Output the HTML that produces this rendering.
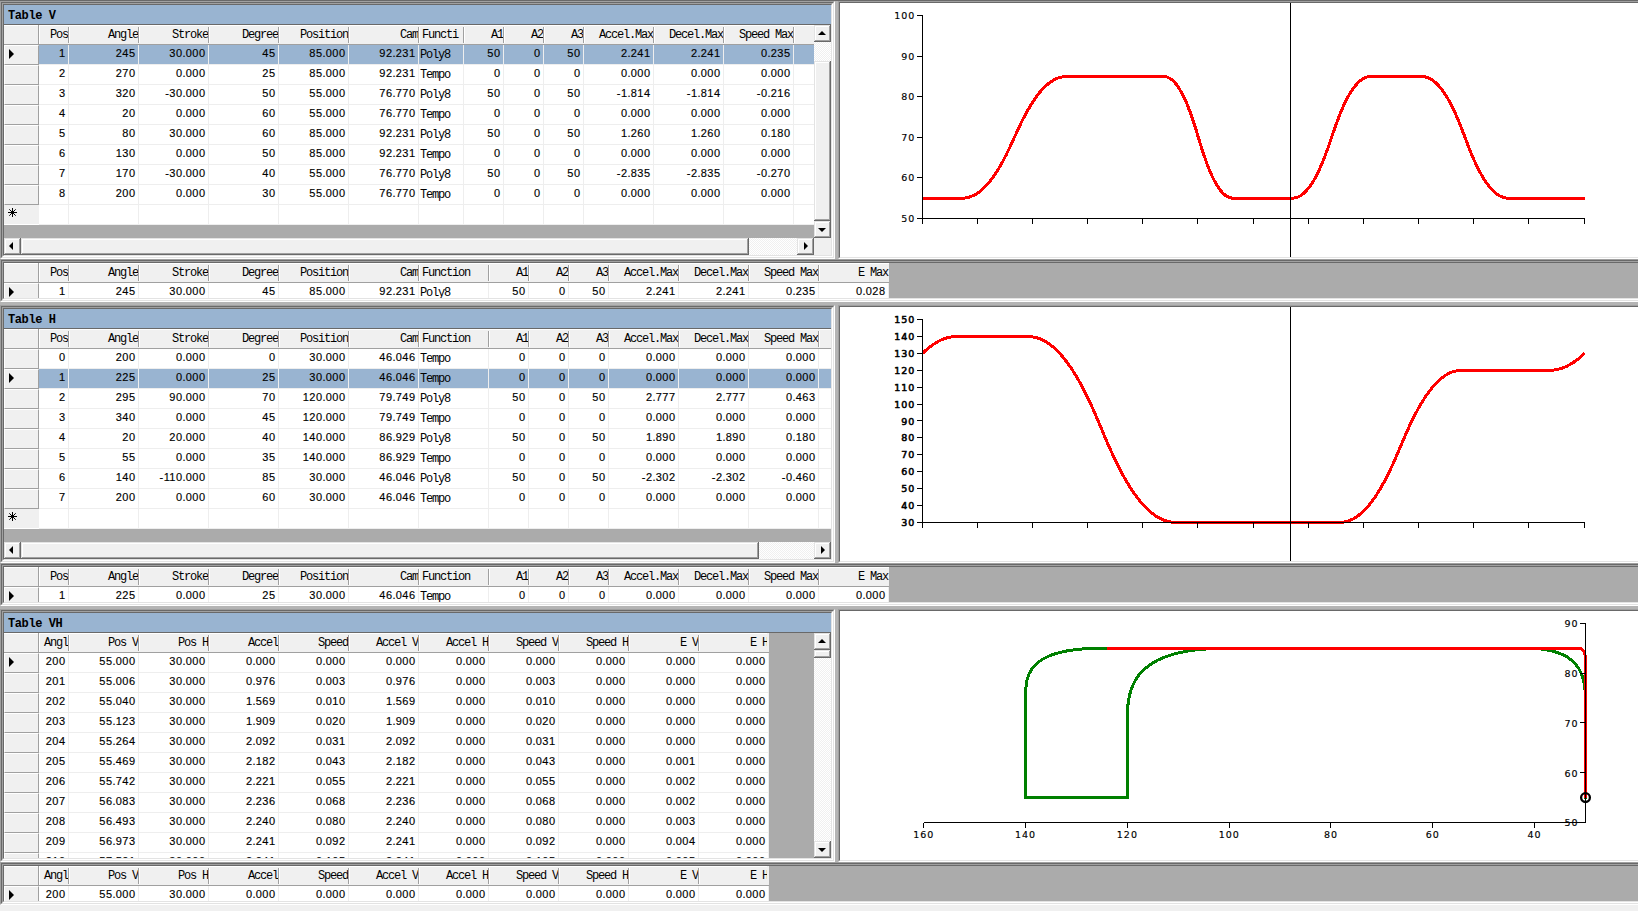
<!DOCTYPE html>
<html><head><meta charset="utf-8"><title>Cam tables</title>
<style>
html,body{margin:0;padding:0}
body{width:1638px;height:911px;overflow:hidden;background:#f0f0f0;position:relative;
 font:12px "Liberation Mono",monospace;letter-spacing:-1.2px;color:#000}
div,svg,b,i,u,s,em{position:absolute;box-sizing:border-box;text-decoration:none;font-style:normal}
.sk{border:1px solid;border-color:#a0a0a0 #fff #fff #a0a0a0}
.sk>.in{left:0;top:0;right:0;bottom:0;border:1px solid;border-color:#696969 #e3e3e3 #e3e3e3 #696969;overflow:hidden}
.cap{left:0;top:0;right:0;height:19px;background:#99b4d1;font-weight:bold;letter-spacing:-.4px;line-height:23px;padding-left:4px;overflow:hidden;white-space:pre}
.hd{background:#f0f0f0;border-top:1px solid #696969;border-bottom:1px solid #a0a0a0;height:21px;left:0}
.hd i{position:absolute;top:2px;width:2px;height:16px;border-left:1px solid #a0a0a0;border-right:1px solid #fff}
.hd b,.r b{position:absolute;top:0;height:19px;line-height:21px;font-weight:normal;white-space:pre;overflow:hidden}
.hd b{text-align:right;padding-right:1px}
.hd b.l{text-align:left;padding-left:3px}
.hd u{position:absolute;left:34px;top:0;width:2px;height:19px;border-left:1px solid #a0a0a0;border-right:1px solid #fff}
.hd em{position:absolute;left:0;top:0;height:1px;background:#fff;right:0}
.r{left:0;height:20px}
.r b{text-align:right;padding-right:5px;background:#fff}
.r b.l{text-align:left;padding:0 0 0 1px}
.r b.n{font:11px "Liberation Sans",sans-serif;letter-spacing:.4px;line-height:17px;padding-right:3.6px;-webkit-text-stroke:.15px #000}
.r.s b{background:#99b4d1}
.r s{position:absolute;left:0;top:0;width:35px;height:20px;background:#f0f0f0;border-right:1px solid #a0a0a0;border-bottom:1px solid #a0a0a0;border-top:1px solid #fff;border-left:1px solid #fff}
.r s.n{border:0;height:19px;width:35px}
.vl{width:1px;background:#eee}
.hl{height:1px;background:#eee}
.ws{background:#ababab}
.bt{background:#f0f0f0;box-shadow:inset -1px -1px 0 #696969,inset 1px 1px 0 #e3e3e3,inset -2px -2px 0 #a0a0a0,inset 2px 2px 0 #fff}
.tr{background:repeating-conic-gradient(#fff 0% 25%,#f0f0f0 0% 50%) 0 0/2px 2px}
.ar{width:0;height:0;border:solid transparent}
svg text{font-family:"DejaVu Sans",sans-serif;font-size:9.5px;letter-spacing:1px;fill:#000;stroke:#000;stroke-width:.15px}
</style></head><body>

<div style="left:0;top:0;width:1638px;height:1px;background:#696969"></div>
<div style="left:835px;top:1px;width:3px;height:904px;background:#b4b4b4"></div>
<div class="sk" style="left:0;top:1px;width:835px;height:258px"><div class="in"><div class="sk" style="left:0;top:0;width:831px;height:254px"><div class="in" style="background:#fff"><div class="cap">Table V</div><div style="left:0;top:19px;width:827px;height:1px;background:#696969"></div><div class="hd" style="top:19px;width:810px"><em></em><u></u><b style="left:35px;width:30px">Pos</b><i style="left:64px"></i><b style="left:65px;width:70px">Angle</b><i style="left:134px"></i><b style="left:135px;width:70px">Stroke</b><i style="left:204px"></i><b style="left:205px;width:70px">Degree</b><i style="left:274px"></i><b style="left:275px;width:70px">Position</b><i style="left:344px"></i><b style="left:345px;width:70px">Cam</b><i style="left:414px"></i><b class="l" style="left:415px;width:45px">Functi</b><i style="left:459px"></i><b style="left:460px;width:40px">A1</b><i style="left:499px"></i><b style="left:500px;width:40px">A2</b><i style="left:539px"></i><b style="left:540px;width:40px">A3</b><i style="left:579px"></i><b style="left:580px;width:70px">Accel.Max</b><i style="left:649px"></i><b style="left:650px;width:70px">Decel.Max</b><i style="left:719px"></i><b style="left:720px;width:70px">Speed Max</b><i style="left:789px"></i><b style="left:790px;width:70px"></b></div><div class="r s" style="top:40px;width:810px;height:20px;overflow:hidden"><s></s><div class="ar" style="left:5px;top:4px;border-width:5px 0 5px 5px;border-left-color:#000"></div><b class="n" style="left:35px;width:30px">1</b><b class="n" style="left:65px;width:70px">245</b><b class="n" style="left:135px;width:70px">30.000</b><b class="n" style="left:205px;width:70px">45</b><b class="n" style="left:275px;width:70px">85.000</b><b class="n" style="left:345px;width:70px">92.231</b><b class="l" style="left:415px;width:45px">Poly8</b><b class="n" style="left:460px;width:40px">50</b><b class="n" style="left:500px;width:40px">0</b><b class="n" style="left:540px;width:40px">50</b><b class="n" style="left:580px;width:70px">2.241</b><b class="n" style="left:650px;width:70px">2.241</b><b class="n" style="left:720px;width:70px">0.235</b><b class="n" style="left:790px;width:70px"></b></div><div class="r" style="top:60px;width:810px;height:20px;overflow:hidden"><s></s><b class="n" style="left:35px;width:30px">2</b><b class="n" style="left:65px;width:70px">270</b><b class="n" style="left:135px;width:70px">0.000</b><b class="n" style="left:205px;width:70px">25</b><b class="n" style="left:275px;width:70px">85.000</b><b class="n" style="left:345px;width:70px">92.231</b><b class="l" style="left:415px;width:45px">Tempo</b><b class="n" style="left:460px;width:40px">0</b><b class="n" style="left:500px;width:40px">0</b><b class="n" style="left:540px;width:40px">0</b><b class="n" style="left:580px;width:70px">0.000</b><b class="n" style="left:650px;width:70px">0.000</b><b class="n" style="left:720px;width:70px">0.000</b><b class="n" style="left:790px;width:70px"></b></div><div class="r" style="top:80px;width:810px;height:20px;overflow:hidden"><s></s><b class="n" style="left:35px;width:30px">3</b><b class="n" style="left:65px;width:70px">320</b><b class="n" style="left:135px;width:70px">-30.000</b><b class="n" style="left:205px;width:70px">50</b><b class="n" style="left:275px;width:70px">55.000</b><b class="n" style="left:345px;width:70px">76.770</b><b class="l" style="left:415px;width:45px">Poly8</b><b class="n" style="left:460px;width:40px">50</b><b class="n" style="left:500px;width:40px">0</b><b class="n" style="left:540px;width:40px">50</b><b class="n" style="left:580px;width:70px">-1.814</b><b class="n" style="left:650px;width:70px">-1.814</b><b class="n" style="left:720px;width:70px">-0.216</b><b class="n" style="left:790px;width:70px"></b></div><div class="r" style="top:100px;width:810px;height:20px;overflow:hidden"><s></s><b class="n" style="left:35px;width:30px">4</b><b class="n" style="left:65px;width:70px">20</b><b class="n" style="left:135px;width:70px">0.000</b><b class="n" style="left:205px;width:70px">60</b><b class="n" style="left:275px;width:70px">55.000</b><b class="n" style="left:345px;width:70px">76.770</b><b class="l" style="left:415px;width:45px">Tempo</b><b class="n" style="left:460px;width:40px">0</b><b class="n" style="left:500px;width:40px">0</b><b class="n" style="left:540px;width:40px">0</b><b class="n" style="left:580px;width:70px">0.000</b><b class="n" style="left:650px;width:70px">0.000</b><b class="n" style="left:720px;width:70px">0.000</b><b class="n" style="left:790px;width:70px"></b></div><div class="r" style="top:120px;width:810px;height:20px;overflow:hidden"><s></s><b class="n" style="left:35px;width:30px">5</b><b class="n" style="left:65px;width:70px">80</b><b class="n" style="left:135px;width:70px">30.000</b><b class="n" style="left:205px;width:70px">60</b><b class="n" style="left:275px;width:70px">85.000</b><b class="n" style="left:345px;width:70px">92.231</b><b class="l" style="left:415px;width:45px">Poly8</b><b class="n" style="left:460px;width:40px">50</b><b class="n" style="left:500px;width:40px">0</b><b class="n" style="left:540px;width:40px">50</b><b class="n" style="left:580px;width:70px">1.260</b><b class="n" style="left:650px;width:70px">1.260</b><b class="n" style="left:720px;width:70px">0.180</b><b class="n" style="left:790px;width:70px"></b></div><div class="r" style="top:140px;width:810px;height:20px;overflow:hidden"><s></s><b class="n" style="left:35px;width:30px">6</b><b class="n" style="left:65px;width:70px">130</b><b class="n" style="left:135px;width:70px">0.000</b><b class="n" style="left:205px;width:70px">50</b><b class="n" style="left:275px;width:70px">85.000</b><b class="n" style="left:345px;width:70px">92.231</b><b class="l" style="left:415px;width:45px">Tempo</b><b class="n" style="left:460px;width:40px">0</b><b class="n" style="left:500px;width:40px">0</b><b class="n" style="left:540px;width:40px">0</b><b class="n" style="left:580px;width:70px">0.000</b><b class="n" style="left:650px;width:70px">0.000</b><b class="n" style="left:720px;width:70px">0.000</b><b class="n" style="left:790px;width:70px"></b></div><div class="r" style="top:160px;width:810px;height:20px;overflow:hidden"><s></s><b class="n" style="left:35px;width:30px">7</b><b class="n" style="left:65px;width:70px">170</b><b class="n" style="left:135px;width:70px">-30.000</b><b class="n" style="left:205px;width:70px">40</b><b class="n" style="left:275px;width:70px">55.000</b><b class="n" style="left:345px;width:70px">76.770</b><b class="l" style="left:415px;width:45px">Poly8</b><b class="n" style="left:460px;width:40px">50</b><b class="n" style="left:500px;width:40px">0</b><b class="n" style="left:540px;width:40px">50</b><b class="n" style="left:580px;width:70px">-2.835</b><b class="n" style="left:650px;width:70px">-2.835</b><b class="n" style="left:720px;width:70px">-0.270</b><b class="n" style="left:790px;width:70px"></b></div><div class="r" style="top:180px;width:810px;height:20px;overflow:hidden"><s></s><b class="n" style="left:35px;width:30px">8</b><b class="n" style="left:65px;width:70px">200</b><b class="n" style="left:135px;width:70px">0.000</b><b class="n" style="left:205px;width:70px">30</b><b class="n" style="left:275px;width:70px">55.000</b><b class="n" style="left:345px;width:70px">76.770</b><b class="l" style="left:415px;width:45px">Tempo</b><b class="n" style="left:460px;width:40px">0</b><b class="n" style="left:500px;width:40px">0</b><b class="n" style="left:540px;width:40px">0</b><b class="n" style="left:580px;width:70px">0.000</b><b class="n" style="left:650px;width:70px">0.000</b><b class="n" style="left:720px;width:70px">0.000</b><b class="n" style="left:790px;width:70px"></b></div><div class="r" style="top:200px;width:810px;height:20px;overflow:hidden"><s class="n"></s><svg width="10" height="10" viewBox="0 0 10 10" style="left:4px;top:3px"><path d="M4.5 0V9M0 4.5H9M1.3 1.3L7.7 7.7M7.7 1.3L1.3 7.7" stroke="#000" stroke-width="1" fill="none"/></svg><b class="n" style="left:35px;width:30px"></b><b class="n" style="left:65px;width:70px"></b><b class="n" style="left:135px;width:70px"></b><b class="n" style="left:205px;width:70px"></b><b class="n" style="left:275px;width:70px"></b><b class="n" style="left:345px;width:70px"></b><b class="l" style="left:415px;width:45px"></b><b class="n" style="left:460px;width:40px"></b><b class="n" style="left:500px;width:40px"></b><b class="n" style="left:540px;width:40px"></b><b class="n" style="left:580px;width:70px"></b><b class="n" style="left:650px;width:70px"></b><b class="n" style="left:720px;width:70px"></b><b class="n" style="left:790px;width:70px"></b></div><div class="vl" style="left:64px;top:40px;height:180px"></div><div class="vl" style="left:134px;top:40px;height:180px"></div><div class="vl" style="left:204px;top:40px;height:180px"></div><div class="vl" style="left:274px;top:40px;height:180px"></div><div class="vl" style="left:344px;top:40px;height:180px"></div><div class="vl" style="left:414px;top:40px;height:180px"></div><div class="vl" style="left:459px;top:40px;height:180px"></div><div class="vl" style="left:499px;top:40px;height:180px"></div><div class="vl" style="left:539px;top:40px;height:180px"></div><div class="vl" style="left:579px;top:40px;height:180px"></div><div class="vl" style="left:649px;top:40px;height:180px"></div><div class="vl" style="left:719px;top:40px;height:180px"></div><div class="vl" style="left:789px;top:40px;height:180px"></div><div class="hl" style="left:35px;top:59px;width:775px"></div><div class="hl" style="left:35px;top:79px;width:775px"></div><div class="hl" style="left:35px;top:99px;width:775px"></div><div class="hl" style="left:35px;top:119px;width:775px"></div><div class="hl" style="left:35px;top:139px;width:775px"></div><div class="hl" style="left:35px;top:159px;width:775px"></div><div class="hl" style="left:35px;top:179px;width:775px"></div><div class="hl" style="left:35px;top:199px;width:775px"></div><div class="hl" style="left:35px;top:219px;width:775px"></div><div class="ws" style="left:0;top:220px;width:810px;height:13px"></div><div class="tr" style="left:0px;top:233px;width:810px;height:17px"></div><div class="bt" style="left:0px;top:233px;width:17px;height:17px"></div><div class="ar" style="left:5px;top:237px;border-width:4px 4px 4px 0;border-right-color:#000"></div><div class="bt" style="left:793px;top:233px;width:17px;height:17px"></div><div class="ar" style="left:800px;top:237px;border-width:4px 0 4px 4px;border-left-color:#000"></div><div class="bt" style="left:17px;top:233px;width:728px;height:17px"></div><div style="left:810px;top:233px;width:17px;height:17px;background:#f0f0f0"></div><div class="tr" style="left:810px;top:20px;width:17px;height:213px"></div><div class="bt" style="left:810px;top:20px;width:17px;height:17px"></div><div class="ar" style="left:814px;top:26px;border-width:0 4px 4px 4px;border-bottom-color:#000"></div><div class="bt" style="left:810px;top:216px;width:17px;height:17px"></div><div class="ar" style="left:814px;top:223px;border-width:4px 4px 0 4px;border-top-color:#000"></div><div class="bt" style="left:810px;top:56px;width:17px;height:160px"></div></div></div></div></div>
<div class="sk" style="left:838px;top:1px;width:802px;height:258px;border-right:0"><div class="in" style="background:#fff;border-right:0"><svg width="800" height="254" viewBox="840 3 800 254" style="left:0;top:0" shape-rendering="crispEdges"><path d="M922.5 198.2 L923.4 198.2 L924.3 198.2 L925.3 198.2 L926.2 198.2 L927.1 198.2 L928 198.2 L928.9 198.2 L929.9 198.2 L930.8 198.2 L931.7 198.2 L932.6 198.2 L933.5 198.2 L934.5 198.2 L935.4 198.2 L936.3 198.2 L937.2 198.2 L938.1 198.2 L939 198.2 L940 198.2 L940.9 198.2 L941.8 198.2 L942.7 198.2 L943.6 198.2 L944.6 198.2 L945.5 198.2 L946.4 198.2 L947.3 198.2 L948.2 198.2 L949.2 198.2 L950.1 198.2 L951 198.2 L951.9 198.2 L952.8 198.2 L953.8 198.2 L954.7 198.2 L955.6 198.2 L956.5 198.2 L957.4 198.2 L958.4 198.2 L959.3 198.2 L960.2 198.2 L961.1 198.2 L962 198.2 L963 198.1 L963.9 198.1 L964.8 198 L965.7 197.9 L966.6 197.7 L967.6 197.5 L968.5 197.3 L969.4 197 L970.3 196.7 L971.2 196.4 L972.1 196 L973.1 195.6 L974 195.2 L974.9 194.7 L975.8 194.2 L976.7 193.6 L977.7 193 L978.6 192.4 L979.5 191.7 L980.4 191 L981.3 190.2 L982.3 189.4 L983.2 188.6 L984.1 187.7 L985 186.8 L985.9 185.8 L986.9 184.8 L987.8 183.8 L988.7 182.7 L989.6 181.6 L990.5 180.4 L991.5 179.2 L992.4 178 L993.3 176.7 L994.2 175.4 L995.1 174.1 L996.1 172.7 L997 171.3 L997.9 169.8 L998.8 168.3 L999.7 166.7 L1000.7 165.1 L1001.6 163.5 L1002.5 161.9 L1003.4 160.2 L1004.3 158.4 L1005.2 156.6 L1006.2 154.8 L1007.1 153 L1008 151.1 L1008.9 149.2 L1009.8 147.3 L1010.8 145.3 L1011.7 143.3 L1012.6 141.3 L1013.5 139.3 L1014.4 137.2 L1015.4 135.2 L1016.3 133.2 L1017.2 131.2 L1018.1 129.2 L1019 127.2 L1020 125.3 L1020.9 123.4 L1021.8 121.5 L1022.7 119.7 L1023.6 117.8 L1024.6 116.1 L1025.5 114.3 L1026.4 112.6 L1027.3 111 L1028.2 109.4 L1029.2 107.8 L1030.1 106.2 L1031 104.7 L1031.9 103.3 L1032.8 101.8 L1033.8 100.4 L1034.7 99.1 L1035.6 97.8 L1036.5 96.5 L1037.4 95.3 L1038.3 94.1 L1039.3 92.9 L1040.2 91.8 L1041.1 90.8 L1042 89.7 L1042.9 88.7 L1043.9 87.8 L1044.8 86.9 L1045.7 86 L1046.6 85.2 L1047.5 84.4 L1048.5 83.6 L1049.4 82.9 L1050.3 82.2 L1051.2 81.6 L1052.1 81 L1053.1 80.4 L1054 79.9 L1054.9 79.4 L1055.8 78.9 L1056.7 78.5 L1057.7 78.2 L1058.6 77.8 L1059.5 77.5 L1060.4 77.3 L1061.3 77.1 L1062.3 76.9 L1063.2 76.7 L1064.1 76.6 L1065 76.5 L1065.9 76.5 L1066.9 76.4 L1067.8 76.4 L1068.7 76.4 L1069.6 76.4 L1070.5 76.4 L1071.5 76.4 L1072.4 76.4 L1073.3 76.4 L1074.2 76.4 L1075.1 76.4 L1076 76.4 L1077 76.4 L1077.9 76.4 L1078.8 76.4 L1079.7 76.4 L1080.6 76.4 L1081.6 76.4 L1082.5 76.4 L1083.4 76.4 L1084.3 76.4 L1085.2 76.4 L1086.2 76.4 L1087.1 76.4 L1088 76.4 L1088.9 76.4 L1089.8 76.4 L1090.8 76.4 L1091.7 76.4 L1092.6 76.4 L1093.5 76.4 L1094.4 76.4 L1095.4 76.4 L1096.3 76.4 L1097.2 76.4 L1098.1 76.4 L1099 76.4 L1100 76.4 L1100.9 76.4 L1101.8 76.4 L1102.7 76.4 L1103.6 76.4 L1104.5 76.4 L1105.5 76.4 L1106.4 76.4 L1107.3 76.4 L1108.2 76.4 L1109.1 76.4 L1110.1 76.4 L1111 76.4 L1111.9 76.4 L1112.8 76.4 L1113.7 76.4 L1114.7 76.4 L1115.6 76.4 L1116.5 76.4 L1117.4 76.4 L1118.3 76.4 L1119.3 76.4 L1120.2 76.4 L1121.1 76.4 L1122 76.4 L1122.9 76.4 L1123.9 76.4 L1124.8 76.4 L1125.7 76.4 L1126.6 76.4 L1127.5 76.4 L1128.5 76.4 L1129.4 76.4 L1130.3 76.4 L1131.2 76.4 L1132.1 76.4 L1133.1 76.4 L1134 76.4 L1134.9 76.4 L1135.8 76.4 L1136.7 76.4 L1137.7 76.4 L1138.6 76.4 L1139.5 76.4 L1140.4 76.4 L1141.3 76.4 L1142.2 76.4 L1143.2 76.4 L1144.1 76.4 L1145 76.4 L1145.9 76.4 L1146.8 76.4 L1147.8 76.4 L1148.7 76.4 L1149.6 76.4 L1150.5 76.4 L1151.4 76.4 L1152.4 76.4 L1153.3 76.4 L1154.2 76.4 L1155.1 76.4 L1156 76.4 L1157 76.4 L1157.9 76.4 L1158.8 76.4 L1159.7 76.4 L1160.6 76.4 L1161.6 76.4 L1162.5 76.4 L1163.4 76.4 L1164.3 76.5 L1165.2 76.6 L1166.2 76.8 L1167.1 77.1 L1168 77.4 L1168.9 77.9 L1169.8 78.4 L1170.8 79 L1171.7 79.7 L1172.6 80.4 L1173.5 81.3 L1174.4 82.2 L1175.3 83.3 L1176.3 84.4 L1177.2 85.6 L1178.1 86.9 L1179 88.3 L1179.9 89.8 L1180.9 91.4 L1181.8 93 L1182.7 94.8 L1183.6 96.6 L1184.5 98.5 L1185.5 100.5 L1186.4 102.6 L1187.3 104.8 L1188.2 107.1 L1189.1 109.5 L1190.1 111.9 L1191 114.4 L1191.9 117.1 L1192.8 119.8 L1193.7 122.5 L1194.7 125.4 L1195.6 128.3 L1196.5 131.3 L1197.4 134.3 L1198.3 137.4 L1199.3 140.4 L1200.2 143.4 L1201.1 146.4 L1202 149.3 L1202.9 152.2 L1203.8 154.9 L1204.8 157.6 L1205.7 160.3 L1206.6 162.8 L1207.5 165.2 L1208.4 167.6 L1209.4 169.9 L1210.3 172.1 L1211.2 174.2 L1212.1 176.2 L1213 178.1 L1214 179.9 L1214.9 181.7 L1215.8 183.3 L1216.7 184.9 L1217.6 186.3 L1218.6 187.7 L1219.5 189 L1220.4 190.2 L1221.3 191.4 L1222.2 192.4 L1223.2 193.4 L1224.1 194.2 L1225 195 L1225.9 195.7 L1226.8 196.3 L1227.8 196.8 L1228.7 197.2 L1229.6 197.5 L1230.5 197.8 L1231.4 198 L1232.4 198.1 L1233.3 198.2 L1234.2 198.2 L1235.1 198.2 L1236 198.2 L1237 198.2 L1237.9 198.2 L1238.8 198.2 L1239.7 198.2 L1240.6 198.2 L1241.5 198.2 L1242.5 198.2 L1243.4 198.2 L1244.3 198.2 L1245.2 198.2 L1246.1 198.2 L1247.1 198.2 L1248 198.2 L1248.9 198.2 L1249.8 198.2 L1250.7 198.2 L1251.7 198.2 L1252.6 198.2 L1253.5 198.2 L1254.4 198.2 L1255.3 198.2 L1256.3 198.2 L1257.2 198.2 L1258.1 198.2 L1259 198.2 L1259.9 198.2 L1260.9 198.2 L1261.8 198.2 L1262.7 198.2 L1263.6 198.2 L1264.5 198.2 L1265.5 198.2 L1266.4 198.2 L1267.3 198.2 L1268.2 198.2 L1269.1 198.2 L1270 198.2 L1271 198.2 L1271.9 198.2 L1272.8 198.2 L1273.7 198.2 L1274.6 198.2 L1275.6 198.2 L1276.5 198.2 L1277.4 198.2 L1278.3 198.2 L1279.2 198.2 L1280.2 198.2 L1281.1 198.2 L1282 198.2 L1282.9 198.2 L1283.8 198.2 L1284.8 198.2 L1285.7 198.2 L1286.6 198.2 L1287.5 198.2 L1288.4 198.2 L1289.4 198.2 L1290.3 198.2 L1291.2 198.2 L1292.1 198.2 L1293 198.1 L1294 198 L1294.9 197.9 L1295.8 197.7 L1296.7 197.4 L1297.6 197.1 L1298.6 196.7 L1299.5 196.3 L1300.4 195.8 L1301.3 195.2 L1302.2 194.5 L1303.2 193.8 L1304.1 193 L1305 192.1 L1305.9 191.2 L1306.8 190.2 L1307.7 189.1 L1308.7 188 L1309.6 186.8 L1310.5 185.5 L1311.4 184.1 L1312.3 182.7 L1313.3 181.2 L1314.2 179.6 L1315.1 178 L1316 176.3 L1316.9 174.5 L1317.9 172.7 L1318.8 170.8 L1319.7 168.8 L1320.6 166.7 L1321.5 164.6 L1322.5 162.4 L1323.4 160.2 L1324.3 157.8 L1325.2 155.4 L1326.1 153 L1327.1 150.5 L1328 147.9 L1328.9 145.3 L1329.8 142.6 L1330.7 139.9 L1331.7 137.2 L1332.6 134.5 L1333.5 131.8 L1334.4 129.2 L1335.3 126.6 L1336.2 124 L1337.2 121.5 L1338.1 119 L1339 116.7 L1339.9 114.3 L1340.8 112.1 L1341.8 109.9 L1342.7 107.8 L1343.6 105.7 L1344.5 103.7 L1345.4 101.8 L1346.4 100 L1347.3 98.2 L1348.2 96.5 L1349.1 94.9 L1350 93.3 L1351 91.8 L1351.9 90.4 L1352.8 89.1 L1353.7 87.8 L1354.6 86.6 L1355.6 85.4 L1356.5 84.4 L1357.4 83.4 L1358.3 82.4 L1359.2 81.6 L1360.2 80.8 L1361.1 80 L1362 79.4 L1362.9 78.8 L1363.8 78.3 L1364.8 77.8 L1365.7 77.5 L1366.6 77.1 L1367.5 76.9 L1368.4 76.7 L1369.3 76.6 L1370.3 76.5 L1371.2 76.4 L1372.1 76.4 L1373 76.4 L1373.9 76.4 L1374.9 76.4 L1375.8 76.4 L1376.7 76.4 L1377.6 76.4 L1378.5 76.4 L1379.5 76.4 L1380.4 76.4 L1381.3 76.4 L1382.2 76.4 L1383.1 76.4 L1384.1 76.4 L1385 76.4 L1385.9 76.4 L1386.8 76.4 L1387.7 76.4 L1388.7 76.4 L1389.6 76.4 L1390.5 76.4 L1391.4 76.4 L1392.3 76.4 L1393.3 76.4 L1394.2 76.4 L1395.1 76.4 L1396 76.4 L1396.9 76.4 L1397.9 76.4 L1398.8 76.4 L1399.7 76.4 L1400.6 76.4 L1401.5 76.4 L1402.5 76.4 L1403.4 76.4 L1404.3 76.4 L1405.2 76.4 L1406.1 76.4 L1407 76.4 L1408 76.4 L1408.9 76.4 L1409.8 76.4 L1410.7 76.4 L1411.6 76.4 L1412.6 76.4 L1413.5 76.4 L1414.4 76.4 L1415.3 76.4 L1416.2 76.4 L1417.2 76.4 L1418.1 76.4 L1419 76.4 L1419.9 76.4 L1420.8 76.4 L1421.8 76.5 L1422.7 76.5 L1423.6 76.6 L1424.5 76.8 L1425.4 77 L1426.4 77.2 L1427.3 77.5 L1428.2 77.9 L1429.1 78.3 L1430 78.7 L1431 79.2 L1431.9 79.8 L1432.8 80.4 L1433.7 81.1 L1434.6 81.8 L1435.5 82.6 L1436.5 83.5 L1437.4 84.4 L1438.3 85.4 L1439.2 86.4 L1440.1 87.5 L1441.1 88.6 L1442 89.8 L1442.9 91 L1443.8 92.3 L1444.7 93.7 L1445.7 95.1 L1446.6 96.6 L1447.5 98.1 L1448.4 99.7 L1449.3 101.4 L1450.3 103.1 L1451.2 104.8 L1452.1 106.6 L1453 108.5 L1453.9 110.4 L1454.9 112.4 L1455.8 114.4 L1456.7 116.5 L1457.6 118.7 L1458.5 120.9 L1459.5 123.1 L1460.4 125.4 L1461.3 127.7 L1462.2 130.1 L1463.1 132.5 L1464.1 134.9 L1465 137.4 L1465.9 139.8 L1466.8 142.2 L1467.7 144.6 L1468.7 147 L1469.6 149.3 L1470.5 151.6 L1471.4 153.8 L1472.3 156 L1473.2 158.2 L1474.2 160.3 L1475.1 162.3 L1476 164.3 L1476.9 166.2 L1477.8 168.1 L1478.8 169.9 L1479.7 171.6 L1480.6 173.3 L1481.5 175 L1482.4 176.6 L1483.4 178.1 L1484.3 179.6 L1485.2 181 L1486.1 182.3 L1487 183.6 L1488 184.9 L1488.9 186.1 L1489.8 187.2 L1490.7 188.3 L1491.6 189.3 L1492.6 190.2 L1493.5 191.2 L1494.4 192 L1495.3 192.8 L1496.2 193.5 L1497.2 194.2 L1498.1 194.8 L1499 195.4 L1499.9 195.9 L1500.8 196.4 L1501.8 196.8 L1502.7 197.1 L1503.6 197.4 L1504.5 197.6 L1505.4 197.8 L1506.3 198 L1507.3 198.1 L1508.2 198.1 L1509.1 198.2 L1510 198.2 L1510.9 198.2 L1511.9 198.2 L1512.8 198.2 L1513.7 198.2 L1514.6 198.2 L1515.5 198.2 L1516.5 198.2 L1517.4 198.2 L1518.3 198.2 L1519.2 198.2 L1520.1 198.2 L1521.1 198.2 L1522 198.2 L1522.9 198.2 L1523.8 198.2 L1524.7 198.2 L1525.7 198.2 L1526.6 198.2 L1527.5 198.2 L1528.4 198.2 L1529.3 198.2 L1530.3 198.2 L1531.2 198.2 L1532.1 198.2 L1533 198.2 L1533.9 198.2 L1534.8 198.2 L1535.8 198.2 L1536.7 198.2 L1537.6 198.2 L1538.5 198.2 L1539.4 198.2 L1540.4 198.2 L1541.3 198.2 L1542.2 198.2 L1543.1 198.2 L1544 198.2 L1545 198.2 L1545.9 198.2 L1546.8 198.2 L1547.7 198.2 L1548.6 198.2 L1549.6 198.2 L1550.5 198.2 L1551.4 198.2 L1552.3 198.2 L1553.2 198.2 L1554.2 198.2 L1555.1 198.2 L1556 198.2 L1556.9 198.2 L1557.8 198.2 L1558.8 198.2 L1559.7 198.2 L1560.6 198.2 L1561.5 198.2 L1562.4 198.2 L1563.4 198.2 L1564.3 198.2 L1565.2 198.2 L1566.1 198.2 L1567 198.2 L1567.9 198.2 L1568.9 198.2 L1569.8 198.2 L1570.7 198.2 L1571.6 198.2 L1572.5 198.2 L1573.5 198.2 L1574.4 198.2 L1575.3 198.2 L1576.2 198.2 L1577.1 198.2 L1578.1 198.2 L1579 198.2 L1579.9 198.2 L1580.8 198.2 L1581.7 198.2 L1582.7 198.2 L1583.6 198.2 L1584.5 198.2" fill="none" stroke="#f00" stroke-width="3" stroke-linejoin="round"/><path d="M922.5 15.5 V218.5 M917.0 218.5 H1585.0 M917.0 15.5 H922.5 M917.0 56.5 H922.5 M917.0 96.5 H922.5 M917.0 137.5 H922.5 M917.0 177.5 H922.5 M917.0 218.5 H922.5 M922.5 218.5 V224.0 M977.5 218.5 V224.0 M1032.5 218.5 V224.0 M1087.5 218.5 V224.0 M1142.5 218.5 V224.0 M1197.5 218.5 V224.0 M1253.5 218.5 V224.0 M1308.5 218.5 V224.0 M1363.5 218.5 V224.0 M1418.5 218.5 V224.0 M1473.5 218.5 V224.0 M1528.5 218.5 V224.0 M1584.5 218.5 V224.0" fill="none" stroke="#000" stroke-width="1"/><path d="M1290.5 3 V257" stroke="#000" stroke-width="1"/><text x="915.3" y="19" text-anchor="end">100</text><text x="915.3" y="59.6" text-anchor="end">90</text><text x="915.3" y="100.2" text-anchor="end">80</text><text x="915.3" y="140.8" text-anchor="end">70</text><text x="915.3" y="181.4" text-anchor="end">60</text><text x="915.3" y="222" text-anchor="end">50</text></svg></div></div>
<div class="sk" style="left:0;top:259px;width:1640px;height:43px"><div class="in"><div class="sk" style="left:0;top:0;width:1640px;height:39px"><div class="in ws"><div class="hd" style="top:-1px;width:885px"><em></em><u></u><b style="left:35px;width:30px">Pos</b><i style="left:64px"></i><b style="left:65px;width:70px">Angle</b><i style="left:134px"></i><b style="left:135px;width:70px">Stroke</b><i style="left:204px"></i><b style="left:205px;width:70px">Degree</b><i style="left:274px"></i><b style="left:275px;width:70px">Position</b><i style="left:344px"></i><b style="left:345px;width:70px">Cam</b><i style="left:414px"></i><b class="l" style="left:415px;width:70px">Function</b><i style="left:484px"></i><b style="left:485px;width:40px">A1</b><i style="left:524px"></i><b style="left:525px;width:40px">A2</b><i style="left:564px"></i><b style="left:565px;width:40px">A3</b><i style="left:604px"></i><b style="left:605px;width:70px">Accel.Max</b><i style="left:674px"></i><b style="left:675px;width:70px">Decel.Max</b><i style="left:744px"></i><b style="left:745px;width:70px">Speed Max</b><i style="left:814px"></i><b style="left:815px;width:70px">E Max</b></div><div class="r" style="top:20px;width:886px;height:15px;overflow:hidden"><s></s><div class="ar" style="left:5px;top:4px;border-width:5px 0 5px 5px;border-left-color:#000"></div><b class="n" style="left:35px;width:30px">1</b><b class="n" style="left:65px;width:70px">245</b><b class="n" style="left:135px;width:70px">30.000</b><b class="n" style="left:205px;width:70px">45</b><b class="n" style="left:275px;width:70px">85.000</b><b class="n" style="left:345px;width:70px">92.231</b><b class="l" style="left:415px;width:70px">Poly8</b><b class="n" style="left:485px;width:40px">50</b><b class="n" style="left:525px;width:40px">0</b><b class="n" style="left:565px;width:40px">50</b><b class="n" style="left:605px;width:70px">2.241</b><b class="n" style="left:675px;width:70px">2.241</b><b class="n" style="left:745px;width:70px">0.235</b><b class="n" style="left:815px;width:70px">0.028</b></div><div class="vl" style="left:64px;top:20px;height:15px"></div><div class="vl" style="left:134px;top:20px;height:15px"></div><div class="vl" style="left:204px;top:20px;height:15px"></div><div class="vl" style="left:274px;top:20px;height:15px"></div><div class="vl" style="left:344px;top:20px;height:15px"></div><div class="vl" style="left:414px;top:20px;height:15px"></div><div class="vl" style="left:484px;top:20px;height:15px"></div><div class="vl" style="left:524px;top:20px;height:15px"></div><div class="vl" style="left:564px;top:20px;height:15px"></div><div class="vl" style="left:604px;top:20px;height:15px"></div><div class="vl" style="left:674px;top:20px;height:15px"></div><div class="vl" style="left:744px;top:20px;height:15px"></div><div class="vl" style="left:814px;top:20px;height:15px"></div><div class="vl" style="left:884px;top:20px;height:15px"></div></div></div></div></div>
<div style="left:0;top:302px;width:1638px;height:3px;background:#b4b4b4"></div>
<div class="sk" style="left:0;top:305px;width:835px;height:258px"><div class="in"><div class="sk" style="left:0;top:0;width:831px;height:254px"><div class="in" style="background:#fff"><div class="cap">Table H</div><div style="left:0;top:19px;width:827px;height:1px;background:#696969"></div><div class="hd" style="top:19px;width:827px"><em></em><u></u><b style="left:35px;width:30px">Pos</b><i style="left:64px"></i><b style="left:65px;width:70px">Angle</b><i style="left:134px"></i><b style="left:135px;width:70px">Stroke</b><i style="left:204px"></i><b style="left:205px;width:70px">Degree</b><i style="left:274px"></i><b style="left:275px;width:70px">Position</b><i style="left:344px"></i><b style="left:345px;width:70px">Cam</b><i style="left:414px"></i><b class="l" style="left:415px;width:70px">Function</b><i style="left:484px"></i><b style="left:485px;width:40px">A1</b><i style="left:524px"></i><b style="left:525px;width:40px">A2</b><i style="left:564px"></i><b style="left:565px;width:40px">A3</b><i style="left:604px"></i><b style="left:605px;width:70px">Accel.Max</b><i style="left:674px"></i><b style="left:675px;width:70px">Decel.Max</b><i style="left:744px"></i><b style="left:745px;width:70px">Speed Max</b><i style="left:814px"></i><b style="left:815px;width:70px"></b></div><div class="r" style="top:40px;width:827px;height:20px;overflow:hidden"><s></s><b class="n" style="left:35px;width:30px">0</b><b class="n" style="left:65px;width:70px">200</b><b class="n" style="left:135px;width:70px">0.000</b><b class="n" style="left:205px;width:70px">0</b><b class="n" style="left:275px;width:70px">30.000</b><b class="n" style="left:345px;width:70px">46.046</b><b class="l" style="left:415px;width:70px">Tempo</b><b class="n" style="left:485px;width:40px">0</b><b class="n" style="left:525px;width:40px">0</b><b class="n" style="left:565px;width:40px">0</b><b class="n" style="left:605px;width:70px">0.000</b><b class="n" style="left:675px;width:70px">0.000</b><b class="n" style="left:745px;width:70px">0.000</b><b class="n" style="left:815px;width:70px"></b></div><div class="r s" style="top:60px;width:827px;height:20px;overflow:hidden"><s></s><div class="ar" style="left:5px;top:4px;border-width:5px 0 5px 5px;border-left-color:#000"></div><b class="n" style="left:35px;width:30px">1</b><b class="n" style="left:65px;width:70px">225</b><b class="n" style="left:135px;width:70px">0.000</b><b class="n" style="left:205px;width:70px">25</b><b class="n" style="left:275px;width:70px">30.000</b><b class="n" style="left:345px;width:70px">46.046</b><b class="l" style="left:415px;width:70px">Tempo</b><b class="n" style="left:485px;width:40px">0</b><b class="n" style="left:525px;width:40px">0</b><b class="n" style="left:565px;width:40px">0</b><b class="n" style="left:605px;width:70px">0.000</b><b class="n" style="left:675px;width:70px">0.000</b><b class="n" style="left:745px;width:70px">0.000</b><b class="n" style="left:815px;width:70px"></b></div><div class="r" style="top:80px;width:827px;height:20px;overflow:hidden"><s></s><b class="n" style="left:35px;width:30px">2</b><b class="n" style="left:65px;width:70px">295</b><b class="n" style="left:135px;width:70px">90.000</b><b class="n" style="left:205px;width:70px">70</b><b class="n" style="left:275px;width:70px">120.000</b><b class="n" style="left:345px;width:70px">79.749</b><b class="l" style="left:415px;width:70px">Poly8</b><b class="n" style="left:485px;width:40px">50</b><b class="n" style="left:525px;width:40px">0</b><b class="n" style="left:565px;width:40px">50</b><b class="n" style="left:605px;width:70px">2.777</b><b class="n" style="left:675px;width:70px">2.777</b><b class="n" style="left:745px;width:70px">0.463</b><b class="n" style="left:815px;width:70px"></b></div><div class="r" style="top:100px;width:827px;height:20px;overflow:hidden"><s></s><b class="n" style="left:35px;width:30px">3</b><b class="n" style="left:65px;width:70px">340</b><b class="n" style="left:135px;width:70px">0.000</b><b class="n" style="left:205px;width:70px">45</b><b class="n" style="left:275px;width:70px">120.000</b><b class="n" style="left:345px;width:70px">79.749</b><b class="l" style="left:415px;width:70px">Tempo</b><b class="n" style="left:485px;width:40px">0</b><b class="n" style="left:525px;width:40px">0</b><b class="n" style="left:565px;width:40px">0</b><b class="n" style="left:605px;width:70px">0.000</b><b class="n" style="left:675px;width:70px">0.000</b><b class="n" style="left:745px;width:70px">0.000</b><b class="n" style="left:815px;width:70px"></b></div><div class="r" style="top:120px;width:827px;height:20px;overflow:hidden"><s></s><b class="n" style="left:35px;width:30px">4</b><b class="n" style="left:65px;width:70px">20</b><b class="n" style="left:135px;width:70px">20.000</b><b class="n" style="left:205px;width:70px">40</b><b class="n" style="left:275px;width:70px">140.000</b><b class="n" style="left:345px;width:70px">86.929</b><b class="l" style="left:415px;width:70px">Poly8</b><b class="n" style="left:485px;width:40px">50</b><b class="n" style="left:525px;width:40px">0</b><b class="n" style="left:565px;width:40px">50</b><b class="n" style="left:605px;width:70px">1.890</b><b class="n" style="left:675px;width:70px">1.890</b><b class="n" style="left:745px;width:70px">0.180</b><b class="n" style="left:815px;width:70px"></b></div><div class="r" style="top:140px;width:827px;height:20px;overflow:hidden"><s></s><b class="n" style="left:35px;width:30px">5</b><b class="n" style="left:65px;width:70px">55</b><b class="n" style="left:135px;width:70px">0.000</b><b class="n" style="left:205px;width:70px">35</b><b class="n" style="left:275px;width:70px">140.000</b><b class="n" style="left:345px;width:70px">86.929</b><b class="l" style="left:415px;width:70px">Tempo</b><b class="n" style="left:485px;width:40px">0</b><b class="n" style="left:525px;width:40px">0</b><b class="n" style="left:565px;width:40px">0</b><b class="n" style="left:605px;width:70px">0.000</b><b class="n" style="left:675px;width:70px">0.000</b><b class="n" style="left:745px;width:70px">0.000</b><b class="n" style="left:815px;width:70px"></b></div><div class="r" style="top:160px;width:827px;height:20px;overflow:hidden"><s></s><b class="n" style="left:35px;width:30px">6</b><b class="n" style="left:65px;width:70px">140</b><b class="n" style="left:135px;width:70px">-110.000</b><b class="n" style="left:205px;width:70px">85</b><b class="n" style="left:275px;width:70px">30.000</b><b class="n" style="left:345px;width:70px">46.046</b><b class="l" style="left:415px;width:70px">Poly8</b><b class="n" style="left:485px;width:40px">50</b><b class="n" style="left:525px;width:40px">0</b><b class="n" style="left:565px;width:40px">50</b><b class="n" style="left:605px;width:70px">-2.302</b><b class="n" style="left:675px;width:70px">-2.302</b><b class="n" style="left:745px;width:70px">-0.460</b><b class="n" style="left:815px;width:70px"></b></div><div class="r" style="top:180px;width:827px;height:20px;overflow:hidden"><s></s><b class="n" style="left:35px;width:30px">7</b><b class="n" style="left:65px;width:70px">200</b><b class="n" style="left:135px;width:70px">0.000</b><b class="n" style="left:205px;width:70px">60</b><b class="n" style="left:275px;width:70px">30.000</b><b class="n" style="left:345px;width:70px">46.046</b><b class="l" style="left:415px;width:70px">Tempo</b><b class="n" style="left:485px;width:40px">0</b><b class="n" style="left:525px;width:40px">0</b><b class="n" style="left:565px;width:40px">0</b><b class="n" style="left:605px;width:70px">0.000</b><b class="n" style="left:675px;width:70px">0.000</b><b class="n" style="left:745px;width:70px">0.000</b><b class="n" style="left:815px;width:70px"></b></div><div class="r" style="top:200px;width:827px;height:20px;overflow:hidden"><s class="n"></s><svg width="10" height="10" viewBox="0 0 10 10" style="left:4px;top:3px"><path d="M4.5 0V9M0 4.5H9M1.3 1.3L7.7 7.7M7.7 1.3L1.3 7.7" stroke="#000" stroke-width="1" fill="none"/></svg><b class="n" style="left:35px;width:30px"></b><b class="n" style="left:65px;width:70px"></b><b class="n" style="left:135px;width:70px"></b><b class="n" style="left:205px;width:70px"></b><b class="n" style="left:275px;width:70px"></b><b class="n" style="left:345px;width:70px"></b><b class="l" style="left:415px;width:70px"></b><b class="n" style="left:485px;width:40px"></b><b class="n" style="left:525px;width:40px"></b><b class="n" style="left:565px;width:40px"></b><b class="n" style="left:605px;width:70px"></b><b class="n" style="left:675px;width:70px"></b><b class="n" style="left:745px;width:70px"></b><b class="n" style="left:815px;width:70px"></b></div><div class="vl" style="left:64px;top:40px;height:180px"></div><div class="vl" style="left:134px;top:40px;height:180px"></div><div class="vl" style="left:204px;top:40px;height:180px"></div><div class="vl" style="left:274px;top:40px;height:180px"></div><div class="vl" style="left:344px;top:40px;height:180px"></div><div class="vl" style="left:414px;top:40px;height:180px"></div><div class="vl" style="left:484px;top:40px;height:180px"></div><div class="vl" style="left:524px;top:40px;height:180px"></div><div class="vl" style="left:564px;top:40px;height:180px"></div><div class="vl" style="left:604px;top:40px;height:180px"></div><div class="vl" style="left:674px;top:40px;height:180px"></div><div class="vl" style="left:744px;top:40px;height:180px"></div><div class="vl" style="left:814px;top:40px;height:180px"></div><div class="hl" style="left:35px;top:59px;width:792px"></div><div class="hl" style="left:35px;top:79px;width:792px"></div><div class="hl" style="left:35px;top:99px;width:792px"></div><div class="hl" style="left:35px;top:119px;width:792px"></div><div class="hl" style="left:35px;top:139px;width:792px"></div><div class="hl" style="left:35px;top:159px;width:792px"></div><div class="hl" style="left:35px;top:179px;width:792px"></div><div class="hl" style="left:35px;top:199px;width:792px"></div><div class="hl" style="left:35px;top:219px;width:792px"></div><div class="ws" style="left:0;top:220px;width:827px;height:13px"></div><div class="tr" style="left:0px;top:233px;width:827px;height:17px"></div><div class="bt" style="left:0px;top:233px;width:17px;height:17px"></div><div class="ar" style="left:5px;top:237px;border-width:4px 4px 4px 0;border-right-color:#000"></div><div class="bt" style="left:810px;top:233px;width:17px;height:17px"></div><div class="ar" style="left:817px;top:237px;border-width:4px 0 4px 4px;border-left-color:#000"></div><div class="bt" style="left:17px;top:233px;width:738px;height:17px"></div></div></div></div></div>
<div class="sk" style="left:838px;top:305px;width:802px;height:258px;border-right:0"><div class="in" style="background:#fff;border-right:0"><svg width="800" height="254" viewBox="840 307 800 254" style="left:0;top:0" shape-rendering="crispEdges"><path d="M922.5 353.3 L923.4 352.5 L924.3 351.6 L925.3 350.8 L926.2 350 L927.1 349.2 L928 348.4 L928.9 347.7 L929.9 347 L930.8 346.3 L931.7 345.6 L932.6 344.9 L933.5 344.3 L934.5 343.7 L935.4 343.1 L936.3 342.5 L937.2 342 L938.1 341.5 L939 341 L940 340.6 L940.9 340.1 L941.8 339.7 L942.7 339.3 L943.6 339 L944.6 338.6 L945.5 338.3 L946.4 338 L947.3 337.8 L948.2 337.5 L949.2 337.3 L950.1 337.1 L951 337 L951.9 336.8 L952.8 336.7 L953.8 336.6 L954.7 336.5 L955.6 336.5 L956.5 336.4 L957.4 336.4 L958.4 336.4 L959.3 336.4 L960.2 336.4 L961.1 336.4 L962 336.4 L963 336.4 L963.9 336.4 L964.8 336.4 L965.7 336.4 L966.6 336.4 L967.6 336.4 L968.5 336.4 L969.4 336.4 L970.3 336.4 L971.2 336.4 L972.1 336.4 L973.1 336.4 L974 336.4 L974.9 336.4 L975.8 336.4 L976.7 336.4 L977.7 336.4 L978.6 336.4 L979.5 336.4 L980.4 336.4 L981.3 336.4 L982.3 336.4 L983.2 336.4 L984.1 336.4 L985 336.4 L985.9 336.4 L986.9 336.4 L987.8 336.4 L988.7 336.4 L989.6 336.4 L990.5 336.4 L991.5 336.4 L992.4 336.4 L993.3 336.4 L994.2 336.4 L995.1 336.4 L996.1 336.4 L997 336.4 L997.9 336.4 L998.8 336.4 L999.7 336.4 L1000.7 336.4 L1001.6 336.4 L1002.5 336.4 L1003.4 336.4 L1004.3 336.4 L1005.2 336.4 L1006.2 336.4 L1007.1 336.4 L1008 336.4 L1008.9 336.4 L1009.8 336.4 L1010.8 336.4 L1011.7 336.4 L1012.6 336.4 L1013.5 336.4 L1014.4 336.4 L1015.4 336.4 L1016.3 336.4 L1017.2 336.4 L1018.1 336.4 L1019 336.4 L1020 336.4 L1020.9 336.4 L1021.8 336.4 L1022.7 336.4 L1023.6 336.4 L1024.6 336.4 L1025.5 336.4 L1026.4 336.4 L1027.3 336.5 L1028.2 336.5 L1029.2 336.5 L1030.1 336.6 L1031 336.7 L1031.9 336.8 L1032.8 337 L1033.8 337.1 L1034.7 337.3 L1035.6 337.5 L1036.5 337.8 L1037.4 338 L1038.3 338.3 L1039.3 338.6 L1040.2 339 L1041.1 339.4 L1042 339.8 L1042.9 340.2 L1043.9 340.7 L1044.8 341.2 L1045.7 341.7 L1046.6 342.3 L1047.5 342.9 L1048.5 343.5 L1049.4 344.1 L1050.3 344.8 L1051.2 345.5 L1052.1 346.2 L1053.1 347 L1054 347.8 L1054.9 348.6 L1055.8 349.5 L1056.7 350.4 L1057.7 351.3 L1058.6 352.2 L1059.5 353.2 L1060.4 354.2 L1061.3 355.3 L1062.3 356.3 L1063.2 357.4 L1064.1 358.6 L1065 359.7 L1065.9 360.9 L1066.9 362.1 L1067.8 363.4 L1068.7 364.6 L1069.6 365.9 L1070.5 367.3 L1071.5 368.6 L1072.4 370 L1073.3 371.5 L1074.2 372.9 L1075.1 374.4 L1076 375.9 L1077 377.5 L1077.9 379 L1078.8 380.6 L1079.7 382.3 L1080.6 383.9 L1081.6 385.6 L1082.5 387.3 L1083.4 389.1 L1084.3 390.9 L1085.2 392.7 L1086.2 394.5 L1087.1 396.4 L1088 398.3 L1088.9 400.2 L1089.8 402.2 L1090.8 404.2 L1091.7 406.2 L1092.6 408.2 L1093.5 410.2 L1094.4 412.3 L1095.4 414.4 L1096.3 416.5 L1097.2 418.7 L1098.1 420.8 L1099 423 L1100 425.2 L1100.9 427.4 L1101.8 429.6 L1102.7 431.7 L1103.6 433.9 L1104.5 436.1 L1105.5 438.3 L1106.4 440.4 L1107.3 442.6 L1108.2 444.7 L1109.1 446.8 L1110.1 448.8 L1111 450.9 L1111.9 452.9 L1112.8 454.9 L1113.7 456.9 L1114.7 458.9 L1115.6 460.8 L1116.5 462.7 L1117.4 464.5 L1118.3 466.4 L1119.3 468.2 L1120.2 470 L1121.1 471.7 L1122 473.4 L1122.9 475.1 L1123.9 476.8 L1124.8 478.4 L1125.7 480 L1126.6 481.6 L1127.5 483.1 L1128.5 484.7 L1129.4 486.1 L1130.3 487.6 L1131.2 489 L1132.1 490.4 L1133.1 491.8 L1134 493.1 L1134.9 494.4 L1135.8 495.7 L1136.7 496.9 L1137.7 498.1 L1138.6 499.3 L1139.5 500.5 L1140.4 501.6 L1141.3 502.7 L1142.2 503.7 L1143.2 504.8 L1144.1 505.8 L1145 506.8 L1145.9 507.7 L1146.8 508.6 L1147.8 509.5 L1148.7 510.3 L1149.6 511.2 L1150.5 512 L1151.4 512.7 L1152.4 513.5 L1153.3 514.2 L1154.2 514.8 L1155.1 515.5 L1156 516.1 L1157 516.7 L1157.9 517.2 L1158.8 517.8 L1159.7 518.3 L1160.6 518.7 L1161.6 519.2 L1162.5 519.6 L1163.4 520 L1164.3 520.3 L1165.2 520.6 L1166.2 520.9 L1167.1 521.2 L1168 521.4 L1168.9 521.6 L1169.8 521.8 L1170.8 522 L1171.7 522.1 L1172.6 522.2 L1173.5 522.3 L1174.4 522.4 L1175.3 522.4 L1176.3 522.5 L1177.2 522.5 L1178.1 522.5 L1179 522.5 L1179.9 522.5 L1180.9 522.5 L1181.8 522.5 L1182.7 522.5 L1183.6 522.5 L1184.5 522.5 L1185.5 522.5 L1186.4 522.5 L1187.3 522.5 L1188.2 522.5 L1189.1 522.5 L1190.1 522.5 L1191 522.5 L1191.9 522.5 L1192.8 522.5 L1193.7 522.5 L1194.7 522.5 L1195.6 522.5 L1196.5 522.5 L1197.4 522.5 L1198.3 522.5 L1199.3 522.5 L1200.2 522.5 L1201.1 522.5 L1202 522.5 L1202.9 522.5 L1203.8 522.5 L1204.8 522.5 L1205.7 522.5 L1206.6 522.5 L1207.5 522.5 L1208.4 522.5 L1209.4 522.5 L1210.3 522.5 L1211.2 522.5 L1212.1 522.5 L1213 522.5 L1214 522.5 L1214.9 522.5 L1215.8 522.5 L1216.7 522.5 L1217.6 522.5 L1218.6 522.5 L1219.5 522.5 L1220.4 522.5 L1221.3 522.5 L1222.2 522.5 L1223.2 522.5 L1224.1 522.5 L1225 522.5 L1225.9 522.5 L1226.8 522.5 L1227.8 522.5 L1228.7 522.5 L1229.6 522.5 L1230.5 522.5 L1231.4 522.5 L1232.4 522.5 L1233.3 522.5 L1234.2 522.5 L1235.1 522.5 L1236 522.5 L1237 522.5 L1237.9 522.5 L1238.8 522.5 L1239.7 522.5 L1240.6 522.5 L1241.5 522.5 L1242.5 522.5 L1243.4 522.5 L1244.3 522.5 L1245.2 522.5 L1246.1 522.5 L1247.1 522.5 L1248 522.5 L1248.9 522.5 L1249.8 522.5 L1250.7 522.5 L1251.7 522.5 L1252.6 522.5 L1253.5 522.5 L1254.4 522.5 L1255.3 522.5 L1256.3 522.5 L1257.2 522.5 L1258.1 522.5 L1259 522.5 L1259.9 522.5 L1260.9 522.5 L1261.8 522.5 L1262.7 522.5 L1263.6 522.5 L1264.5 522.5 L1265.5 522.5 L1266.4 522.5 L1267.3 522.5 L1268.2 522.5 L1269.1 522.5 L1270 522.5 L1271 522.5 L1271.9 522.5 L1272.8 522.5 L1273.7 522.5 L1274.6 522.5 L1275.6 522.5 L1276.5 522.5 L1277.4 522.5 L1278.3 522.5 L1279.2 522.5 L1280.2 522.5 L1281.1 522.5 L1282 522.5 L1282.9 522.5 L1283.8 522.5 L1284.8 522.5 L1285.7 522.5 L1286.6 522.5 L1287.5 522.5 L1288.4 522.5 L1289.4 522.5 L1290.3 522.5 L1291.2 522.5 L1292.1 522.5 L1293 522.5 L1294 522.5 L1294.9 522.5 L1295.8 522.5 L1296.7 522.5 L1297.6 522.5 L1298.6 522.5 L1299.5 522.5 L1300.4 522.5 L1301.3 522.5 L1302.2 522.5 L1303.2 522.5 L1304.1 522.5 L1305 522.5 L1305.9 522.5 L1306.8 522.5 L1307.7 522.5 L1308.7 522.5 L1309.6 522.5 L1310.5 522.5 L1311.4 522.5 L1312.3 522.5 L1313.3 522.5 L1314.2 522.5 L1315.1 522.5 L1316 522.5 L1316.9 522.5 L1317.9 522.5 L1318.8 522.5 L1319.7 522.5 L1320.6 522.5 L1321.5 522.5 L1322.5 522.5 L1323.4 522.5 L1324.3 522.5 L1325.2 522.5 L1326.1 522.5 L1327.1 522.5 L1328 522.5 L1328.9 522.5 L1329.8 522.5 L1330.7 522.5 L1331.7 522.5 L1332.6 522.5 L1333.5 522.5 L1334.4 522.5 L1335.3 522.5 L1336.2 522.5 L1337.2 522.5 L1338.1 522.5 L1339 522.5 L1339.9 522.4 L1340.8 522.4 L1341.8 522.3 L1342.7 522.2 L1343.6 522.1 L1344.5 521.9 L1345.4 521.7 L1346.4 521.5 L1347.3 521.3 L1348.2 521 L1349.1 520.7 L1350 520.3 L1351 519.9 L1351.9 519.5 L1352.8 519.1 L1353.7 518.6 L1354.6 518 L1355.6 517.5 L1356.5 516.9 L1357.4 516.2 L1358.3 515.6 L1359.2 514.8 L1360.2 514.1 L1361.1 513.3 L1362 512.5 L1362.9 511.6 L1363.8 510.8 L1364.8 509.8 L1365.7 508.9 L1366.6 507.9 L1367.5 506.8 L1368.4 505.8 L1369.3 504.7 L1370.3 503.5 L1371.2 502.3 L1372.1 501.1 L1373 499.9 L1373.9 498.6 L1374.9 497.3 L1375.8 495.9 L1376.7 494.5 L1377.6 493.1 L1378.5 491.6 L1379.5 490.1 L1380.4 488.6 L1381.3 487 L1382.2 485.4 L1383.1 483.7 L1384.1 482 L1385 480.3 L1385.9 478.6 L1386.8 476.8 L1387.7 475 L1388.7 473.1 L1389.6 471.2 L1390.5 469.3 L1391.4 467.3 L1392.3 465.3 L1393.3 463.3 L1394.2 461.2 L1395.1 459.2 L1396 457.1 L1396.9 454.9 L1397.9 452.8 L1398.8 450.6 L1399.7 448.5 L1400.6 446.3 L1401.5 444.1 L1402.5 442 L1403.4 439.8 L1404.3 437.7 L1405.2 435.5 L1406.1 433.4 L1407 431.4 L1408 429.3 L1408.9 427.3 L1409.8 425.3 L1410.7 423.3 L1411.6 421.4 L1412.6 419.5 L1413.5 417.7 L1414.4 415.8 L1415.3 414.1 L1416.2 412.3 L1417.2 410.6 L1418.1 408.9 L1419 407.3 L1419.9 405.7 L1420.8 404.1 L1421.8 402.5 L1422.7 401 L1423.6 399.6 L1424.5 398.1 L1425.4 396.8 L1426.4 395.4 L1427.3 394.1 L1428.2 392.8 L1429.1 391.5 L1430 390.3 L1431 389.2 L1431.9 388 L1432.8 386.9 L1433.7 385.8 L1434.6 384.8 L1435.5 383.8 L1436.5 382.9 L1437.4 381.9 L1438.3 381 L1439.2 380.2 L1440.1 379.4 L1441.1 378.6 L1442 377.9 L1442.9 377.1 L1443.8 376.5 L1444.7 375.8 L1445.7 375.2 L1446.6 374.7 L1447.5 374.1 L1448.4 373.7 L1449.3 373.2 L1450.3 372.8 L1451.2 372.4 L1452.1 372 L1453 371.7 L1453.9 371.5 L1454.9 371.2 L1455.8 371 L1456.7 370.8 L1457.6 370.7 L1458.5 370.5 L1459.5 370.4 L1460.4 370.4 L1461.3 370.3 L1462.2 370.3 L1463.1 370.3 L1464.1 370.3 L1465 370.2 L1465.9 370.2 L1466.8 370.2 L1467.7 370.2 L1468.7 370.2 L1469.6 370.2 L1470.5 370.2 L1471.4 370.2 L1472.3 370.2 L1473.2 370.2 L1474.2 370.2 L1475.1 370.2 L1476 370.2 L1476.9 370.2 L1477.8 370.2 L1478.8 370.2 L1479.7 370.2 L1480.6 370.2 L1481.5 370.2 L1482.4 370.2 L1483.4 370.2 L1484.3 370.2 L1485.2 370.2 L1486.1 370.2 L1487 370.2 L1488 370.2 L1488.9 370.2 L1489.8 370.2 L1490.7 370.2 L1491.6 370.2 L1492.6 370.2 L1493.5 370.2 L1494.4 370.2 L1495.3 370.2 L1496.2 370.2 L1497.2 370.2 L1498.1 370.2 L1499 370.2 L1499.9 370.2 L1500.8 370.2 L1501.8 370.2 L1502.7 370.2 L1503.6 370.2 L1504.5 370.2 L1505.4 370.2 L1506.3 370.2 L1507.3 370.2 L1508.2 370.2 L1509.1 370.2 L1510 370.2 L1510.9 370.2 L1511.9 370.2 L1512.8 370.2 L1513.7 370.2 L1514.6 370.2 L1515.5 370.2 L1516.5 370.2 L1517.4 370.2 L1518.3 370.2 L1519.2 370.2 L1520.1 370.2 L1521.1 370.2 L1522 370.2 L1522.9 370.2 L1523.8 370.2 L1524.7 370.2 L1525.7 370.2 L1526.6 370.2 L1527.5 370.2 L1528.4 370.2 L1529.3 370.2 L1530.3 370.2 L1531.2 370.2 L1532.1 370.2 L1533 370.2 L1533.9 370.2 L1534.8 370.2 L1535.8 370.2 L1536.7 370.2 L1537.6 370.2 L1538.5 370.2 L1539.4 370.2 L1540.4 370.2 L1541.3 370.2 L1542.2 370.2 L1543.1 370.2 L1544 370.2 L1545 370.2 L1545.9 370.2 L1546.8 370.2 L1547.7 370.2 L1548.6 370.2 L1549.6 370.2 L1550.5 370.2 L1551.4 370.2 L1552.3 370.1 L1553.2 370.1 L1554.2 370 L1555.1 369.8 L1556 369.7 L1556.9 369.5 L1557.8 369.3 L1558.8 369.1 L1559.7 368.9 L1560.6 368.6 L1561.5 368.3 L1562.4 368 L1563.4 367.7 L1564.3 367.3 L1565.2 366.9 L1566.1 366.5 L1567 366.1 L1567.9 365.6 L1568.9 365.1 L1569.8 364.6 L1570.7 364.1 L1571.6 363.5 L1572.5 363 L1573.5 362.4 L1574.4 361.7 L1575.3 361.1 L1576.2 360.4 L1577.1 359.7 L1578.1 359 L1579 358.2 L1579.9 357.4 L1580.8 356.6 L1581.7 355.8 L1582.7 355 L1583.6 354.2 L1584.5 353.3" fill="none" stroke="#f00" stroke-width="3" stroke-linejoin="round"/><path d="M922.5 319.5 V522.5 M917.0 522.5 H1585.0 M917.0 319.5 H922.5 M917.0 336.5 H922.5 M917.0 353.5 H922.5 M917.0 370.5 H922.5 M917.0 387.5 H922.5 M917.0 404.5 H922.5 M917.0 420.5 H922.5 M917.0 437.5 H922.5 M917.0 454.5 H922.5 M917.0 471.5 H922.5 M917.0 488.5 H922.5 M917.0 505.5 H922.5 M917.0 522.5 H922.5 M922.5 522.5 V528.0 M977.5 522.5 V528.0 M1032.5 522.5 V528.0 M1087.5 522.5 V528.0 M1142.5 522.5 V528.0 M1197.5 522.5 V528.0 M1253.5 522.5 V528.0 M1308.5 522.5 V528.0 M1363.5 522.5 V528.0 M1418.5 522.5 V528.0 M1473.5 522.5 V528.0 M1528.5 522.5 V528.0 M1584.5 522.5 V528.0" fill="none" stroke="#000" stroke-width="1"/><path d="M1290.5 307 V561" stroke="#000" stroke-width="1"/><text x="915.3" y="323" text-anchor="end" style="stroke-width:.55px">150</text><text x="915.3" y="339.9" text-anchor="end" style="stroke-width:.55px">140</text><text x="915.3" y="356.8" text-anchor="end" style="stroke-width:.55px">130</text><text x="915.3" y="373.8" text-anchor="end" style="stroke-width:.55px">120</text><text x="915.3" y="390.7" text-anchor="end" style="stroke-width:.55px">110</text><text x="915.3" y="407.6" text-anchor="end" style="stroke-width:.55px">100</text><text x="915.3" y="424.5" text-anchor="end" style="stroke-width:.55px">90</text><text x="915.3" y="441.4" text-anchor="end" style="stroke-width:.55px">80</text><text x="915.3" y="458.3" text-anchor="end" style="stroke-width:.55px">70</text><text x="915.3" y="475.2" text-anchor="end" style="stroke-width:.55px">60</text><text x="915.3" y="492.2" text-anchor="end" style="stroke-width:.55px">50</text><text x="915.3" y="509.1" text-anchor="end" style="stroke-width:.55px">40</text><text x="915.3" y="526" text-anchor="end" style="stroke-width:.55px">30</text></svg></div></div>
<div class="sk" style="left:0;top:563px;width:1640px;height:43px"><div class="in"><div class="sk" style="left:0;top:0;width:1640px;height:39px"><div class="in ws"><div class="hd" style="top:-1px;width:885px"><em></em><u></u><b style="left:35px;width:30px">Pos</b><i style="left:64px"></i><b style="left:65px;width:70px">Angle</b><i style="left:134px"></i><b style="left:135px;width:70px">Stroke</b><i style="left:204px"></i><b style="left:205px;width:70px">Degree</b><i style="left:274px"></i><b style="left:275px;width:70px">Position</b><i style="left:344px"></i><b style="left:345px;width:70px">Cam</b><i style="left:414px"></i><b class="l" style="left:415px;width:70px">Function</b><i style="left:484px"></i><b style="left:485px;width:40px">A1</b><i style="left:524px"></i><b style="left:525px;width:40px">A2</b><i style="left:564px"></i><b style="left:565px;width:40px">A3</b><i style="left:604px"></i><b style="left:605px;width:70px">Accel.Max</b><i style="left:674px"></i><b style="left:675px;width:70px">Decel.Max</b><i style="left:744px"></i><b style="left:745px;width:70px">Speed Max</b><i style="left:814px"></i><b style="left:815px;width:70px">E Max</b></div><div class="r" style="top:20px;width:886px;height:15px;overflow:hidden"><s></s><div class="ar" style="left:5px;top:4px;border-width:5px 0 5px 5px;border-left-color:#000"></div><b class="n" style="left:35px;width:30px">1</b><b class="n" style="left:65px;width:70px">225</b><b class="n" style="left:135px;width:70px">0.000</b><b class="n" style="left:205px;width:70px">25</b><b class="n" style="left:275px;width:70px">30.000</b><b class="n" style="left:345px;width:70px">46.046</b><b class="l" style="left:415px;width:70px">Tempo</b><b class="n" style="left:485px;width:40px">0</b><b class="n" style="left:525px;width:40px">0</b><b class="n" style="left:565px;width:40px">0</b><b class="n" style="left:605px;width:70px">0.000</b><b class="n" style="left:675px;width:70px">0.000</b><b class="n" style="left:745px;width:70px">0.000</b><b class="n" style="left:815px;width:70px">0.000</b></div><div class="vl" style="left:64px;top:20px;height:15px"></div><div class="vl" style="left:134px;top:20px;height:15px"></div><div class="vl" style="left:204px;top:20px;height:15px"></div><div class="vl" style="left:274px;top:20px;height:15px"></div><div class="vl" style="left:344px;top:20px;height:15px"></div><div class="vl" style="left:414px;top:20px;height:15px"></div><div class="vl" style="left:484px;top:20px;height:15px"></div><div class="vl" style="left:524px;top:20px;height:15px"></div><div class="vl" style="left:564px;top:20px;height:15px"></div><div class="vl" style="left:604px;top:20px;height:15px"></div><div class="vl" style="left:674px;top:20px;height:15px"></div><div class="vl" style="left:744px;top:20px;height:15px"></div><div class="vl" style="left:814px;top:20px;height:15px"></div><div class="vl" style="left:884px;top:20px;height:15px"></div></div></div></div></div>
<div style="left:0;top:606px;width:1638px;height:3px;background:#b4b4b4"></div>
<div class="sk" style="left:0;top:609px;width:835px;height:253px"><div class="in"><div class="sk" style="left:0;top:0;width:831px;height:249px"><div class="in" style="background:#fff"><div class="cap">Table VH</div><div style="left:0;top:19px;width:827px;height:1px;background:#696969"></div><div class="hd" style="top:19px;width:810px"><em></em><u></u><b style="left:35px;width:30px">Angl</b><i style="left:64px"></i><b style="left:65px;width:70px">Pos V</b><i style="left:134px"></i><b style="left:135px;width:70px">Pos H</b><i style="left:204px"></i><b style="left:205px;width:70px">Accel</b><i style="left:274px"></i><b style="left:275px;width:70px">Speed</b><i style="left:344px"></i><b style="left:345px;width:70px">Accel V</b><i style="left:414px"></i><b style="left:415px;width:70px">Accel H</b><i style="left:484px"></i><b style="left:485px;width:70px">Speed V</b><i style="left:554px"></i><b style="left:555px;width:70px">Speed H</b><i style="left:624px"></i><b style="left:625px;width:70px">E V</b><i style="left:694px"></i><b style="left:695px;width:70px">E H</b><em style="left:763px;width:2px;height:19px;background:#f0f0f0;right:auto"></em></div><div class="r" style="top:40px;width:810px;height:20px;overflow:hidden"><s></s><div class="ar" style="left:5px;top:4px;border-width:5px 0 5px 5px;border-left-color:#000"></div><b class="n" style="left:35px;width:30px">200</b><b class="n" style="left:65px;width:70px">55.000</b><b class="n" style="left:135px;width:70px">30.000</b><b class="n" style="left:205px;width:70px">0.000</b><b class="n" style="left:275px;width:70px">0.000</b><b class="n" style="left:345px;width:70px">0.000</b><b class="n" style="left:415px;width:70px">0.000</b><b class="n" style="left:485px;width:70px">0.000</b><b class="n" style="left:555px;width:70px">0.000</b><b class="n" style="left:625px;width:70px">0.000</b><b class="n" style="left:695px;width:70px">0.000</b></div><div class="r" style="top:60px;width:810px;height:20px;overflow:hidden"><s></s><b class="n" style="left:35px;width:30px">201</b><b class="n" style="left:65px;width:70px">55.006</b><b class="n" style="left:135px;width:70px">30.000</b><b class="n" style="left:205px;width:70px">0.976</b><b class="n" style="left:275px;width:70px">0.003</b><b class="n" style="left:345px;width:70px">0.976</b><b class="n" style="left:415px;width:70px">0.000</b><b class="n" style="left:485px;width:70px">0.003</b><b class="n" style="left:555px;width:70px">0.000</b><b class="n" style="left:625px;width:70px">0.000</b><b class="n" style="left:695px;width:70px">0.000</b></div><div class="r" style="top:80px;width:810px;height:20px;overflow:hidden"><s></s><b class="n" style="left:35px;width:30px">202</b><b class="n" style="left:65px;width:70px">55.040</b><b class="n" style="left:135px;width:70px">30.000</b><b class="n" style="left:205px;width:70px">1.569</b><b class="n" style="left:275px;width:70px">0.010</b><b class="n" style="left:345px;width:70px">1.569</b><b class="n" style="left:415px;width:70px">0.000</b><b class="n" style="left:485px;width:70px">0.010</b><b class="n" style="left:555px;width:70px">0.000</b><b class="n" style="left:625px;width:70px">0.000</b><b class="n" style="left:695px;width:70px">0.000</b></div><div class="r" style="top:100px;width:810px;height:20px;overflow:hidden"><s></s><b class="n" style="left:35px;width:30px">203</b><b class="n" style="left:65px;width:70px">55.123</b><b class="n" style="left:135px;width:70px">30.000</b><b class="n" style="left:205px;width:70px">1.909</b><b class="n" style="left:275px;width:70px">0.020</b><b class="n" style="left:345px;width:70px">1.909</b><b class="n" style="left:415px;width:70px">0.000</b><b class="n" style="left:485px;width:70px">0.020</b><b class="n" style="left:555px;width:70px">0.000</b><b class="n" style="left:625px;width:70px">0.000</b><b class="n" style="left:695px;width:70px">0.000</b></div><div class="r" style="top:120px;width:810px;height:20px;overflow:hidden"><s></s><b class="n" style="left:35px;width:30px">204</b><b class="n" style="left:65px;width:70px">55.264</b><b class="n" style="left:135px;width:70px">30.000</b><b class="n" style="left:205px;width:70px">2.092</b><b class="n" style="left:275px;width:70px">0.031</b><b class="n" style="left:345px;width:70px">2.092</b><b class="n" style="left:415px;width:70px">0.000</b><b class="n" style="left:485px;width:70px">0.031</b><b class="n" style="left:555px;width:70px">0.000</b><b class="n" style="left:625px;width:70px">0.000</b><b class="n" style="left:695px;width:70px">0.000</b></div><div class="r" style="top:140px;width:810px;height:20px;overflow:hidden"><s></s><b class="n" style="left:35px;width:30px">205</b><b class="n" style="left:65px;width:70px">55.469</b><b class="n" style="left:135px;width:70px">30.000</b><b class="n" style="left:205px;width:70px">2.182</b><b class="n" style="left:275px;width:70px">0.043</b><b class="n" style="left:345px;width:70px">2.182</b><b class="n" style="left:415px;width:70px">0.000</b><b class="n" style="left:485px;width:70px">0.043</b><b class="n" style="left:555px;width:70px">0.000</b><b class="n" style="left:625px;width:70px">0.001</b><b class="n" style="left:695px;width:70px">0.000</b></div><div class="r" style="top:160px;width:810px;height:20px;overflow:hidden"><s></s><b class="n" style="left:35px;width:30px">206</b><b class="n" style="left:65px;width:70px">55.742</b><b class="n" style="left:135px;width:70px">30.000</b><b class="n" style="left:205px;width:70px">2.221</b><b class="n" style="left:275px;width:70px">0.055</b><b class="n" style="left:345px;width:70px">2.221</b><b class="n" style="left:415px;width:70px">0.000</b><b class="n" style="left:485px;width:70px">0.055</b><b class="n" style="left:555px;width:70px">0.000</b><b class="n" style="left:625px;width:70px">0.002</b><b class="n" style="left:695px;width:70px">0.000</b></div><div class="r" style="top:180px;width:810px;height:20px;overflow:hidden"><s></s><b class="n" style="left:35px;width:30px">207</b><b class="n" style="left:65px;width:70px">56.083</b><b class="n" style="left:135px;width:70px">30.000</b><b class="n" style="left:205px;width:70px">2.236</b><b class="n" style="left:275px;width:70px">0.068</b><b class="n" style="left:345px;width:70px">2.236</b><b class="n" style="left:415px;width:70px">0.000</b><b class="n" style="left:485px;width:70px">0.068</b><b class="n" style="left:555px;width:70px">0.000</b><b class="n" style="left:625px;width:70px">0.002</b><b class="n" style="left:695px;width:70px">0.000</b></div><div class="r" style="top:200px;width:810px;height:20px;overflow:hidden"><s></s><b class="n" style="left:35px;width:30px">208</b><b class="n" style="left:65px;width:70px">56.493</b><b class="n" style="left:135px;width:70px">30.000</b><b class="n" style="left:205px;width:70px">2.240</b><b class="n" style="left:275px;width:70px">0.080</b><b class="n" style="left:345px;width:70px">2.240</b><b class="n" style="left:415px;width:70px">0.000</b><b class="n" style="left:485px;width:70px">0.080</b><b class="n" style="left:555px;width:70px">0.000</b><b class="n" style="left:625px;width:70px">0.003</b><b class="n" style="left:695px;width:70px">0.000</b></div><div class="r" style="top:220px;width:810px;height:20px;overflow:hidden"><s></s><b class="n" style="left:35px;width:30px">209</b><b class="n" style="left:65px;width:70px">56.973</b><b class="n" style="left:135px;width:70px">30.000</b><b class="n" style="left:205px;width:70px">2.241</b><b class="n" style="left:275px;width:70px">0.092</b><b class="n" style="left:345px;width:70px">2.241</b><b class="n" style="left:415px;width:70px">0.000</b><b class="n" style="left:485px;width:70px">0.092</b><b class="n" style="left:555px;width:70px">0.000</b><b class="n" style="left:625px;width:70px">0.004</b><b class="n" style="left:695px;width:70px">0.000</b></div><div class="r" style="top:240px;width:810px;height:5px;overflow:hidden"><s></s><b class="n" style="left:35px;width:30px">210</b><b class="n" style="left:65px;width:70px">57.521</b><b class="n" style="left:135px;width:70px">30.000</b><b class="n" style="left:205px;width:70px">2.241</b><b class="n" style="left:275px;width:70px">0.105</b><b class="n" style="left:345px;width:70px">2.241</b><b class="n" style="left:415px;width:70px">0.000</b><b class="n" style="left:485px;width:70px">0.105</b><b class="n" style="left:555px;width:70px">0.000</b><b class="n" style="left:625px;width:70px">0.005</b><b class="n" style="left:695px;width:70px">0.000</b></div><div class="vl" style="left:64px;top:40px;height:205px"></div><div class="vl" style="left:134px;top:40px;height:205px"></div><div class="vl" style="left:204px;top:40px;height:205px"></div><div class="vl" style="left:274px;top:40px;height:205px"></div><div class="vl" style="left:344px;top:40px;height:205px"></div><div class="vl" style="left:414px;top:40px;height:205px"></div><div class="vl" style="left:484px;top:40px;height:205px"></div><div class="vl" style="left:554px;top:40px;height:205px"></div><div class="vl" style="left:624px;top:40px;height:205px"></div><div class="vl" style="left:694px;top:40px;height:205px"></div><div class="vl" style="left:764px;top:40px;height:205px"></div><div class="hl" style="left:35px;top:59px;width:730px"></div><div class="hl" style="left:35px;top:79px;width:730px"></div><div class="hl" style="left:35px;top:99px;width:730px"></div><div class="hl" style="left:35px;top:119px;width:730px"></div><div class="hl" style="left:35px;top:139px;width:730px"></div><div class="hl" style="left:35px;top:159px;width:730px"></div><div class="hl" style="left:35px;top:179px;width:730px"></div><div class="hl" style="left:35px;top:199px;width:730px"></div><div class="hl" style="left:35px;top:219px;width:730px"></div><div class="hl" style="left:35px;top:239px;width:730px"></div><div class="ws" style="left:765px;top:20px;width:45px;height:225px"></div><div class="tr" style="left:810px;top:20px;width:17px;height:225px"></div><div class="bt" style="left:810px;top:20px;width:17px;height:17px"></div><div class="ar" style="left:814px;top:26px;border-width:0 4px 4px 4px;border-bottom-color:#000"></div><div class="bt" style="left:810px;top:228px;width:17px;height:17px"></div><div class="ar" style="left:814px;top:235px;border-width:4px 4px 0 4px;border-top-color:#000"></div><div class="bt" style="left:810px;top:37px;width:17px;height:8px"></div></div></div></div></div>
<div class="sk" style="left:838px;top:609px;width:802px;height:253px;border-right:0"><div class="in" style="background:#fff;border-right:0"><svg width="800" height="249" viewBox="840 611 800 249" style="left:0;top:0" shape-rendering="crispEdges"><path d="M1076.4 797.6 L1073.9 797.6 L1071.4 797.6 L1068.9 797.6 L1066.5 797.6 L1064.1 797.6 L1061.8 797.6 L1059.5 797.6 L1057.3 797.6 L1055.2 797.6 L1053.1 797.6 L1051.2 797.6 L1049.3 797.6 L1047.4 797.6 L1045.7 797.6 L1044 797.6 L1042.4 797.6 L1040.9 797.6 L1039.4 797.6 L1038 797.6 L1036.7 797.6 L1035.5 797.6 L1034.3 797.6 L1033.3 797.6 L1032.2 797.6 L1031.3 797.6 L1030.4 797.6 L1029.7 797.6 L1028.9 797.6 L1028.3 797.6 L1027.7 797.6 L1027.2 797.6 L1026.8 797.6 L1026.4 797.6 L1026.2 797.6 L1025.9 797.6 L1025.8 797.6 L1025.7 797.6 L1025.6 797.6 L1025.6 797.5 L1025.6 797.4 L1025.6 797.3 L1025.6 797.2 L1025.6 797 L1025.6 796.8 L1025.6 796.5 L1025.6 796.2 L1025.6 795.8 L1025.6 795.4 L1025.6 795 L1025.6 794.5 L1025.6 793.9 L1025.6 793.3 L1025.6 792.7 L1025.6 792 L1025.6 791.2 L1025.6 790.4 L1025.6 789.6 L1025.6 788.7 L1025.6 787.8 L1025.6 786.8 L1025.6 785.8 L1025.6 784.7 L1025.6 783.6 L1025.6 782.4 L1025.6 781.2 L1025.6 779.9 L1025.6 778.6 L1025.6 777.2 L1025.6 775.8 L1025.6 774.3 L1025.6 772.8 L1025.6 771.3 L1025.6 769.7 L1025.6 768 L1025.6 766.3 L1025.6 764.5 L1025.6 762.7 L1025.6 760.9 L1025.6 759 L1025.6 757.1 L1025.6 755.1 L1025.6 753 L1025.6 750.9 L1025.6 748.8 L1025.6 746.6 L1025.6 744.4 L1025.6 742.1 L1025.6 739.8 L1025.6 737.5 L1025.6 735.1 L1025.6 732.7 L1025.6 730.3 L1025.6 727.8 L1025.6 725.3 L1025.6 722.8 L1025.6 720.3 L1025.6 717.9 L1025.6 715.4 L1025.6 713 L1025.6 710.5 L1025.6 708.2 L1025.6 705.8 L1025.6 703.5 L1025.6 701.3 L1025.6 699 L1025.6 696.9 L1025.6 694.7 L1025.7 692.6 L1025.7 690.6 L1025.8 688.6 L1026 686.7 L1026.2 684.8 L1026.5 682.9 L1026.8 681.1 L1027.2 679.4 L1027.7 677.7 L1028.3 676 L1028.9 674.4 L1029.6 672.9 L1030.4 671.4 L1031.3 669.9 L1032.3 668.5 L1033.4 667.1 L1034.5 665.8 L1035.7 664.5 L1037.1 663.3 L1038.5 662.2 L1040 661 L1041.5 660 L1043.2 658.9 L1045 658 L1046.9 657 L1048.8 656.1 L1050.8 655.3 L1053 654.5 L1055.2 653.8 L1057.5 653.1 L1059.9 652.5 L1062.4 651.9 L1065 651.3 L1067.6 650.8 L1070.4 650.4 L1073.2 650 L1076.2 649.6 L1079.2 649.3 L1082.3 649 L1085.5 648.8 L1088.8 648.6 L1092.2 648.5 L1095.7 648.4 L1099.2 648.3 L1102.9 648.2 L1106.6 648.2 L1110.5 648.2 L1114.4 648.2 L1118.4 648.2 L1122.5 648.2 L1126.7 648.2 L1131 648.2 L1135.4 648.2 L1139.9 648.2 L1144.4 648.2 L1149.1 648.2 L1153.8 648.2 L1158.6 648.2 L1163.6 648.2 L1168.6 648.2 L1173.7 648.2 L1178.8 648.2 L1184.1 648.2 L1189.5 648.2 L1194.9 648.2 L1200.5 648.2 L1206.1 648.2 L1211.8 648.2 L1217.6 648.2 L1223.5 648.2 L1229.4 648.2 L1235.5 648.2 L1241.6 648.2 L1247.7 648.2 L1254 648.2 L1260.3 648.2 L1266.7 648.2 L1273.1 648.2 L1279.6 648.2 L1286.1 648.2 L1292.7 648.2 L1299.2 648.2 L1305.8 648.2 L1312.4 648.2 L1319 648.2 L1325.5 648.2 L1332.1 648.2 L1338.5 648.2 L1345 648.2 L1351.3 648.2 L1357.6 648.2 L1363.9 648.2 L1370.1 648.2 L1376.2 648.2 L1382.2 648.2 L1388.1 648.2 L1394 648.2 L1399.8 648.2 L1405.5 648.2 L1411.1 648.2 L1416.6 648.2 L1422.1 648.2 L1427.4 648.2 L1432.7 648.2 L1437.9 648.2 L1443 648.2 L1448 648.2 L1452.9 648.2 L1457.7 648.2 L1462.4 648.2 L1467.1 648.2 L1471.6 648.2 L1476.1 648.2 L1480.4 648.2 L1484.7 648.2 L1488.9 648.2 L1493 648.2 L1497 648.2 L1500.9 648.2 L1504.8 648.2 L1508.5 648.2 L1512.2 648.2 L1515.7 648.2 L1519.2 648.2 L1522.6 648.2 L1525.9 648.2 L1529.1 648.2 L1532.2 648.2 L1535.2 648.2 L1538.1 648.2 L1541 648.2 L1543.7 648.2 L1546.4 648.2 L1548.9 648.2 L1551.4 648.2 L1553.8 648.2 L1556.1 648.2 L1558.3 648.2 L1560.4 648.2 L1562.5 648.2 L1564.4 648.2 L1566.3 648.2 L1568 648.2 L1569.7 648.2 L1571.3 648.2 L1572.8 648.2 L1574.2 648.2 L1575.5 648.2 L1576.7 648.2 L1577.8 648.2 L1578.9 648.3 L1579.9 648.5 L1580.7 648.7 L1581.5 649 L1582.2 649.5 L1582.9 650 L1583.4 650.6 L1583.9 651.3 L1584.3 652.2 L1584.6 653.1 L1584.9 654.2 L1585.1 655.4 L1585.3 656.6 L1585.4 658 L1585.4 659.5 L1585.5 661.1 L1585.5 662.8 L1585.5 664.6 L1585.5 666.5 L1585.5 668.6 L1585.5 670.7 L1585.5 673 L1585.5 675.3 L1585.5 677.8 L1585.5 680.4 L1585.5 683.1 L1585.5 685.8 L1585.5 688.7 L1585.5 691.7 L1585.5 694.9 L1585.5 698.1 L1585.5 701.4 L1585.5 704.8 L1585.5 708.3 L1585.5 711.9 L1585.5 715.5 L1585.5 719.2 L1585.5 723 L1585.5 726.7 L1585.5 730.4 L1585.5 734.1 L1585.5 737.6 L1585.5 741.1 L1585.5 744.5 L1585.5 747.9 L1585.5 751.1 L1585.5 754.2 L1585.5 757.2 L1585.5 760.1 L1585.5 762.9 L1585.5 765.5 L1585.5 768.1 L1585.5 770.6 L1585.5 772.9 L1585.5 775.2 L1585.5 777.3 L1585.5 779.3 L1585.5 781.3 L1585.5 783.1 L1585.5 784.8 L1585.5 786.4 L1585.5 787.8 L1585.5 789.2 L1585.5 790.5 L1585.5 791.7 L1585.5 792.7 L1585.5 793.6 L1585.5 794.5 L1585.5 795.2 L1585.5 795.8 L1585.5 796.4 L1585.5 796.8 L1585.5 797.1 L1585.5 797.3 L1585.5 797.5 L1585.5 797.6 L1585.5 797.5 L1585.5 797.4 L1585.5 797.2 L1585.5 797 L1585.5 796.7 L1585.5 796.3 L1585.5 795.8 L1585.5 795.3 L1585.5 794.6 L1585.5 793.9 L1585.5 793.1 L1585.5 792.2 L1585.5 791.2 L1585.5 790.2 L1585.5 789 L1585.5 787.8 L1585.5 786.5 L1585.5 785.1 L1585.5 783.6 L1585.5 782 L1585.5 780.3 L1585.5 778.6 L1585.5 776.8 L1585.5 774.8 L1585.5 772.8 L1585.5 770.7 L1585.5 768.6 L1585.5 766.3 L1585.5 764 L1585.5 761.5 L1585.5 759 L1585.5 756.4 L1585.5 753.7 L1585.5 750.9 L1585.5 748.1 L1585.5 745.2 L1585.5 742.1 L1585.5 739.1 L1585.5 735.9 L1585.5 732.7 L1585.5 729.4 L1585.5 726.1 L1585.5 722.8 L1585.5 719.5 L1585.5 716.2 L1585.5 713 L1585.5 709.7 L1585.5 706.6 L1585.5 703.5 L1585.5 700.5 L1585.4 697.6 L1585.3 694.7 L1585.2 692 L1584.9 689.3 L1584.6 686.7 L1584.3 684.2 L1583.8 681.7 L1583.2 679.4 L1582.6 677.1 L1581.8 675 L1581 672.9 L1580 670.9 L1579 669 L1577.8 667.1 L1576.5 665.4 L1575.1 663.7 L1573.7 662.2 L1572.1 660.7 L1570.4 659.3 L1568.6 658 L1566.6 656.7 L1564.6 655.6 L1562.5 654.5 L1560.2 653.6 L1557.9 652.7 L1555.4 651.9 L1552.8 651.1 L1550.2 650.5 L1547.4 650 L1544.5 649.5 L1541.5 649.1 L1538.4 648.8 L1535.1 648.6 L1531.8 648.4 L1528.4 648.3 L1524.8 648.2 L1521.2 648.2 L1517.4 648.2 L1513.5 648.2 L1509.5 648.2 L1505.5 648.2 L1501.3 648.2 L1497 648.2 L1492.5 648.2 L1488 648.2 L1483.4 648.2 L1478.6 648.2 L1473.8 648.2 L1468.8 648.2 L1463.8 648.2 L1458.6 648.2 L1453.3 648.2 L1447.9 648.2 L1442.4 648.2 L1436.8 648.2 L1431.1 648.2 L1425.3 648.2 L1419.4 648.2 L1413.4 648.2 L1407.4 648.2 L1401.2 648.2 L1394.9 648.2 L1388.6 648.2 L1382.2 648.2 L1375.8 648.2 L1369.3 648.2 L1362.8 648.2 L1356.2 648.2 L1349.7 648.2 L1343.2 648.2 L1336.7 648.2 L1330.2 648.2 L1323.8 648.2 L1317.5 648.2 L1311.3 648.2 L1305.1 648.2 L1299 648.2 L1293 648.2 L1287.2 648.2 L1281.4 648.2 L1275.7 648.2 L1270.1 648.2 L1264.6 648.2 L1259.2 648.2 L1253.9 648.2 L1248.8 648.2 L1243.7 648.2 L1238.8 648.2 L1233.9 648.2 L1229.2 648.2 L1224.6 648.3 L1220.1 648.4 L1215.6 648.5 L1211.3 648.7 L1207.2 648.9 L1203.1 649.2 L1199.1 649.6 L1195.2 650 L1191.5 650.5 L1187.8 651 L1184.3 651.7 L1180.9 652.4 L1177.5 653.1 L1174.3 654 L1171.2 654.9 L1168.2 655.9 L1165.3 656.9 L1162.5 658 L1159.9 659.2 L1157.3 660.4 L1154.9 661.8 L1152.5 663.2 L1150.3 664.6 L1148.1 666.2 L1146.1 667.8 L1144.2 669.4 L1142.4 671.2 L1140.7 673 L1139.1 674.8 L1137.7 676.8 L1136.3 678.8 L1135 680.9 L1133.9 683.1 L1132.8 685.3 L1131.9 687.6 L1131 689.9 L1130.3 692.4 L1129.6 694.9 L1129.1 697.4 L1128.6 700.1 L1128.2 702.7 L1127.9 705.5 L1127.7 708.3 L1127.6 711.2 L1127.5 714.1 L1127.4 717 L1127.4 720 L1127.4 723 L1127.4 726 L1127.4 728.9 L1127.4 731.9 L1127.4 734.8 L1127.4 737.6 L1127.4 740.4 L1127.4 743.2 L1127.4 745.9 L1127.4 748.5 L1127.4 751.1 L1127.4 753.6 L1127.4 756 L1127.4 758.3 L1127.4 760.6 L1127.4 762.9 L1127.4 765 L1127.4 767.1 L1127.4 769.1 L1127.4 771 L1127.4 772.9 L1127.4 774.7 L1127.4 776.5 L1127.4 778.1 L1127.4 779.7 L1127.4 781.3 L1127.4 782.7 L1127.4 784.1 L1127.4 785.4 L1127.4 786.7 L1127.4 787.8 L1127.4 789 L1127.4 790 L1127.4 791 L1127.4 791.9 L1127.4 792.7 L1127.4 793.5 L1127.4 794.2 L1127.4 794.8 L1127.4 795.3 L1127.4 795.8 L1127.4 796.3 L1127.4 796.6 L1127.4 796.9 L1127.4 797.1 L1127.4 797.3 L1127.4 797.5 L1127.4 797.5 L1127.4 797.6 L1127.3 797.6 L1127.2 797.6 L1127 797.6 L1126.8 797.6 L1126.5 797.6 L1126.2 797.6 L1125.8 797.6 L1125.3 797.6 L1124.7 797.6 L1124 797.6 L1123.3 797.6 L1122.5 797.6 L1121.7 797.6 L1120.7 797.6 L1119.7 797.6 L1118.6 797.6 L1117.4 797.6 L1116.2 797.6 L1114.9 797.6 L1113.5 797.6 L1112.1 797.6 L1110.5 797.6 L1108.9 797.6 L1107.2 797.6 L1105.5 797.6 L1103.7 797.6 L1101.8 797.6 L1099.8 797.6 L1097.7 797.6 L1095.6 797.6 L1093.4 797.6 L1091.2 797.6 L1088.8 797.6 L1086.4 797.6 L1084 797.6 L1081.5 797.6 L1079 797.6 L1076.4 797.6 Z" fill="none" stroke="#008000" stroke-width="3" stroke-linejoin="round"/><path d="M1106.6 648.2 L1110.5 648.2 L1114.4 648.2 L1118.4 648.2 L1122.5 648.2 L1126.7 648.2 L1131 648.2 L1135.4 648.2 L1139.9 648.2 L1144.4 648.2 L1149.1 648.2 L1153.8 648.2 L1158.6 648.2 L1163.6 648.2 L1168.6 648.2 L1173.7 648.2 L1178.8 648.2 L1184.1 648.2 L1189.5 648.2 L1194.9 648.2 L1200.5 648.2 L1206.1 648.2 L1211.8 648.2 L1217.6 648.2 L1223.5 648.2 L1229.4 648.2 L1235.5 648.2 L1241.6 648.2 L1247.7 648.2 L1254 648.2 L1260.3 648.2 L1266.7 648.2 L1273.1 648.2 L1279.6 648.2 L1286.1 648.2 L1292.7 648.2 L1299.2 648.2 L1305.8 648.2 L1312.4 648.2 L1319 648.2 L1325.5 648.2 L1332.1 648.2 L1338.5 648.2 L1345 648.2 L1351.3 648.2 L1357.6 648.2 L1363.9 648.2 L1370.1 648.2 L1376.2 648.2 L1382.2 648.2 L1388.1 648.2 L1394 648.2 L1399.8 648.2 L1405.5 648.2 L1411.1 648.2 L1416.6 648.2 L1422.1 648.2 L1427.4 648.2 L1432.7 648.2 L1437.9 648.2 L1443 648.2 L1448 648.2 L1452.9 648.2 L1457.7 648.2 L1462.4 648.2 L1467.1 648.2 L1471.6 648.2 L1476.1 648.2 L1480.4 648.2 L1484.7 648.2 L1488.9 648.2 L1493 648.2 L1497 648.2 L1500.9 648.2 L1504.8 648.2 L1508.5 648.2 L1512.2 648.2 L1515.7 648.2 L1519.2 648.2 L1522.6 648.2 L1525.9 648.2 L1529.1 648.2 L1532.2 648.2 L1535.2 648.2 L1538.1 648.2 L1541 648.2 L1543.7 648.2 L1546.4 648.2 L1548.9 648.2 L1551.4 648.2 L1553.8 648.2 L1556.1 648.2 L1558.3 648.2 L1560.4 648.2 L1562.5 648.2 L1564.4 648.2 L1566.3 648.2 L1568 648.2 L1569.7 648.2 L1571.3 648.2 L1572.8 648.2 L1574.2 648.2 L1575.5 648.2 L1576.7 648.2 L1577.8 648.2 L1578.9 648.3 L1579.9 648.5 L1580.7 648.7 L1581.5 649 L1582.2 649.5 L1582.9 650 L1583.4 650.6 L1583.9 651.3 L1584.3 652.2 L1584.6 653.1 L1584.9 654.2 L1585.1 655.4 L1585.3 656.6 L1585.4 658 L1585.4 659.5 L1585.5 661.1 L1585.5 662.8 L1585.5 664.6 L1585.5 666.5 L1585.5 668.6 L1585.5 670.7 L1585.5 673 L1585.5 675.3 L1585.5 677.8 L1585.5 680.4 L1585.5 683.1 L1585.5 685.8 L1585.5 688.7 L1585.5 691.7 L1585.5 694.9 L1585.5 698.1 L1585.5 701.4 L1585.5 704.8 L1585.5 708.3 L1585.5 711.9 L1585.5 715.5 L1585.5 719.2 L1585.5 723 L1585.5 726.7 L1585.5 730.4 L1585.5 734.1 L1585.5 737.6 L1585.5 741.1 L1585.5 744.5 L1585.5 747.9 L1585.5 751.1 L1585.5 754.2 L1585.5 757.2 L1585.5 760.1 L1585.5 762.9 L1585.5 765.5 L1585.5 768.1 L1585.5 770.6 L1585.5 772.9 L1585.5 775.2 L1585.5 777.3 L1585.5 779.3 L1585.5 781.3 L1585.5 783.1 L1585.5 784.8 L1585.5 786.4 L1585.5 787.8 L1585.5 789.2 L1585.5 790.5 L1585.5 791.7 L1585.5 792.7 L1585.5 793.6 L1585.5 794.5 L1585.5 795.2 L1585.5 795.8 L1585.5 796.4 L1585.5 796.8 L1585.5 797.1 L1585.5 797.3 L1585.5 797.5 L1585.5 797.6" fill="none" stroke="#f00" stroke-width="3" stroke-linejoin="round"/><path d="M1585.5 623 V822.5 M924 822.5 H1586 M1580 623.5 H1585.5 M1580 673.5 H1585.5 M1580 722.5 H1585.5 M1580 772.5 H1585.5 M923.5 822.5 V828 M1025.5 822.5 V828 M1127.5 822.5 V828 M1229.5 822.5 V828 M1330.5 822.5 V828 M1432.5 822.5 V828 M1534.5 822.5 V828" fill="none" stroke="#000" stroke-width="1"/><text x="1578.5" y="627.2" text-anchor="end">90</text><text x="1578.5" y="677" text-anchor="end">80</text><text x="1578.5" y="726.8" text-anchor="end">70</text><text x="1578.5" y="776.6" text-anchor="end">60</text><text x="1578.5" y="826.4" text-anchor="end">50</text><text x="923.8" y="838.4" text-anchor="middle">160</text><text x="1025.6" y="838.4" text-anchor="middle">140</text><text x="1127.4" y="838.4" text-anchor="middle">120</text><text x="1229.2" y="838.4" text-anchor="middle">100</text><text x="1331" y="838.4" text-anchor="middle">80</text><text x="1432.8" y="838.4" text-anchor="middle">60</text><text x="1534.6" y="838.4" text-anchor="middle">40</text><circle cx="1585.5" cy="797.6" r="4.4" fill="none" stroke="#000" stroke-width="2.3" shape-rendering="auto"/></svg></div></div>
<div class="sk" style="left:0;top:862px;width:1640px;height:43px"><div class="in"><div class="sk" style="left:0;top:0;width:1640px;height:39px"><div class="in ws"><div class="hd" style="top:-1px;width:765px"><em></em><u></u><b style="left:35px;width:30px">Angl</b><i style="left:64px"></i><b style="left:65px;width:70px">Pos V</b><i style="left:134px"></i><b style="left:135px;width:70px">Pos H</b><i style="left:204px"></i><b style="left:205px;width:70px">Accel</b><i style="left:274px"></i><b style="left:275px;width:70px">Speed</b><i style="left:344px"></i><b style="left:345px;width:70px">Accel V</b><i style="left:414px"></i><b style="left:415px;width:70px">Accel H</b><i style="left:484px"></i><b style="left:485px;width:70px">Speed V</b><i style="left:554px"></i><b style="left:555px;width:70px">Speed H</b><i style="left:624px"></i><b style="left:625px;width:70px">E V</b><i style="left:694px"></i><b style="left:695px;width:70px">E H</b><em style="left:763px;width:2px;height:19px;background:#f0f0f0;right:auto"></em></div><div class="r" style="top:20px;width:766px;height:15px;overflow:hidden"><s></s><div class="ar" style="left:5px;top:4px;border-width:5px 0 5px 5px;border-left-color:#000"></div><b class="n" style="left:35px;width:30px">200</b><b class="n" style="left:65px;width:70px">55.000</b><b class="n" style="left:135px;width:70px">30.000</b><b class="n" style="left:205px;width:70px">0.000</b><b class="n" style="left:275px;width:70px">0.000</b><b class="n" style="left:345px;width:70px">0.000</b><b class="n" style="left:415px;width:70px">0.000</b><b class="n" style="left:485px;width:70px">0.000</b><b class="n" style="left:555px;width:70px">0.000</b><b class="n" style="left:625px;width:70px">0.000</b><b class="n" style="left:695px;width:70px">0.000</b></div><div class="vl" style="left:64px;top:20px;height:15px"></div><div class="vl" style="left:134px;top:20px;height:15px"></div><div class="vl" style="left:204px;top:20px;height:15px"></div><div class="vl" style="left:274px;top:20px;height:15px"></div><div class="vl" style="left:344px;top:20px;height:15px"></div><div class="vl" style="left:414px;top:20px;height:15px"></div><div class="vl" style="left:484px;top:20px;height:15px"></div><div class="vl" style="left:554px;top:20px;height:15px"></div><div class="vl" style="left:624px;top:20px;height:15px"></div><div class="vl" style="left:694px;top:20px;height:15px"></div><div class="vl" style="left:764px;top:20px;height:15px"></div></div></div></div></div>
</body></html>
